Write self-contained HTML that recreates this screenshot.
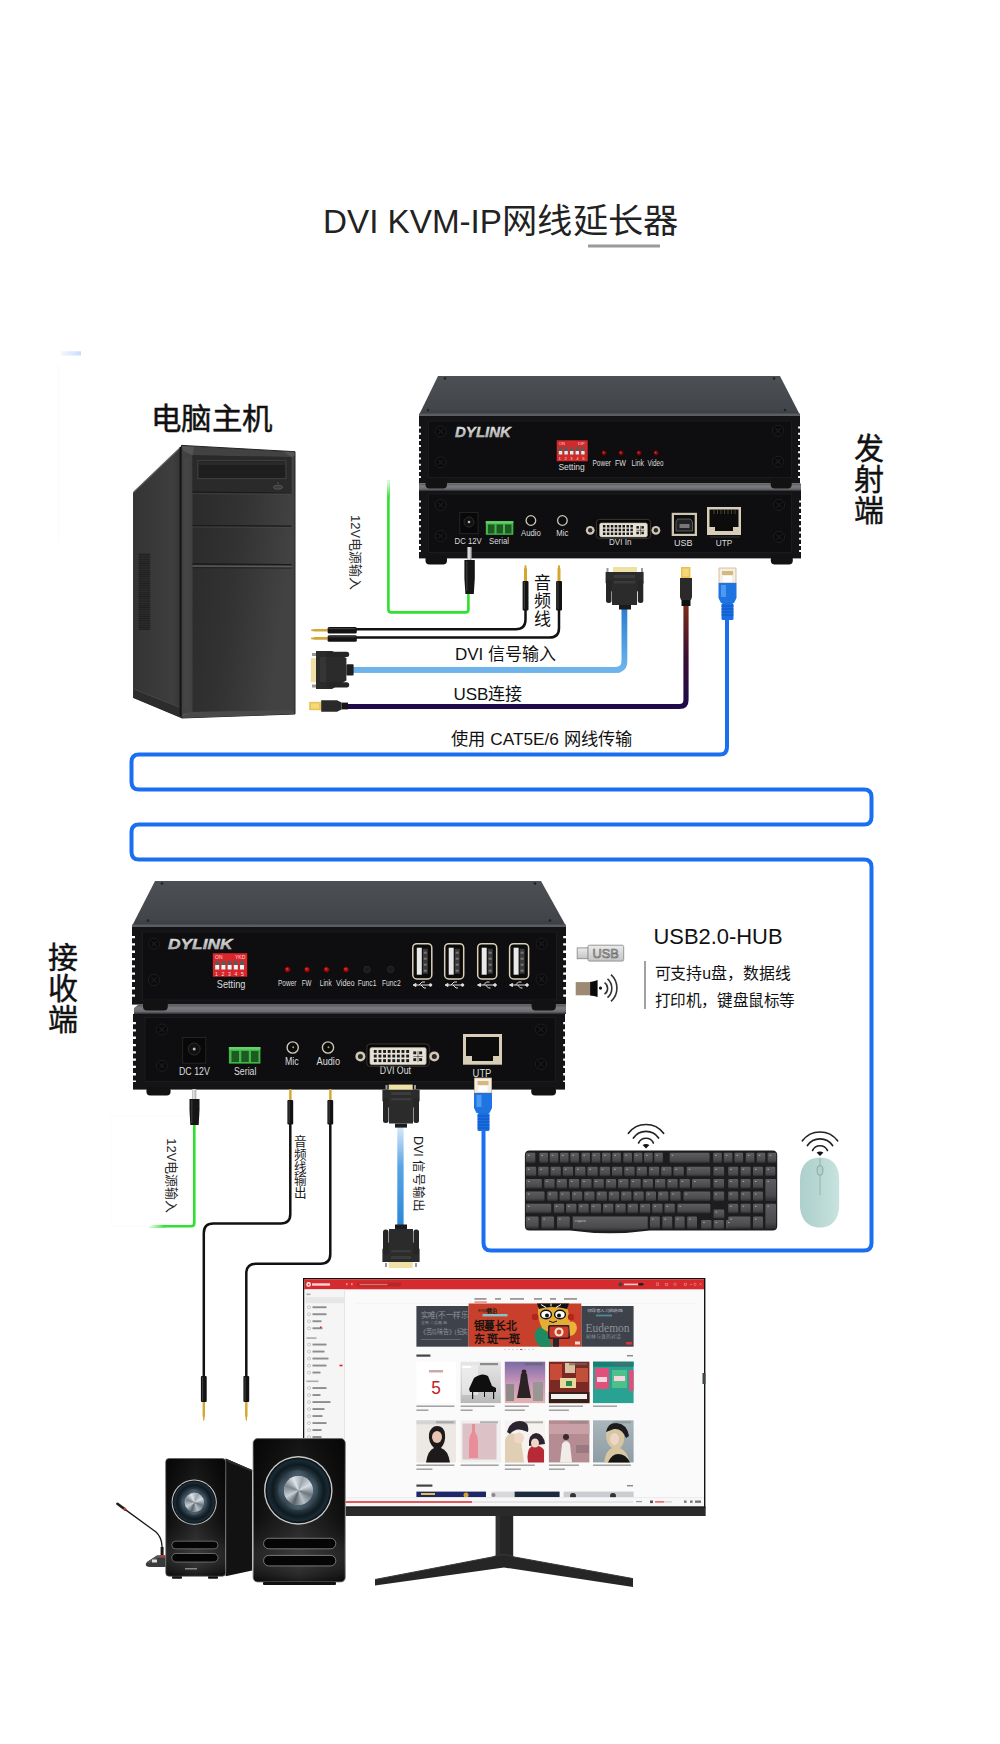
<!DOCTYPE html>
<html lang="zh-CN"><head><meta charset="utf-8">
<style>
html,body{margin:0;padding:0;background:#fff;}
body{width:1000px;height:1744px;overflow:hidden;position:relative;font-family:"Liberation Sans",sans-serif;}
svg{display:block;}
.dome{position:absolute;border-radius:50%;background:conic-gradient(from 20deg,#9aa4ac,#d6dde2 12%,#6c767e 25%,#b8c0c6 38%,#58626a 50%,#c8d0d6 62%,#7a848c 75%,#dfe5e9 88%,#9aa4ac);}
.cone{position:absolute;border-radius:50%;background:conic-gradient(from 0deg,rgba(120,150,170,.25),rgba(0,0,0,0) 10%,rgba(120,150,170,.18) 22%,rgba(0,0,0,0) 35%,rgba(140,170,190,.22) 50%,rgba(0,0,0,0) 62%,rgba(120,150,170,.2) 75%,rgba(0,0,0,0) 88%,rgba(120,150,170,.25));}

text{font-family:"Liberation Sans",sans-serif;}
</style></head>
<body>
<svg width="1000" height="1744" viewBox="0 0 1000 1744">
<defs>
<linearGradient id="topS" x1="0" y1="0" x2="0" y2="1"><stop offset="0" stop-color="#4c4f54"/><stop offset="0.85" stop-color="#42454a"/><stop offset="1" stop-color="#3a3d42"/></linearGradient>
<linearGradient id="strip" x1="0" y1="0" x2="0" y2="1"><stop offset="0" stop-color="#55575c"/><stop offset="0.35" stop-color="#7b7c80"/><stop offset="0.75" stop-color="#6a6b70"/><stop offset="1" stop-color="#2a2b2e"/></linearGradient>
<linearGradient id="towerSide" x1="0" y1="0" x2="1" y2="0"><stop offset="0" stop-color="#2a2a2a"/><stop offset="1" stop-color="#3a3a3a"/></linearGradient>
<linearGradient id="towerFront" x1="0" y1="0" x2="1" y2="1"><stop offset="0" stop-color="#262626"/><stop offset="0.6" stop-color="#2f2f2f"/><stop offset="1" stop-color="#3d3d3d"/></linearGradient>
<linearGradient id="dviCab" x1="0" y1="0" x2="0" y2="1"><stop offset="0" stop-color="#2a7ed0"/><stop offset="1" stop-color="#6cb6ee"/></linearGradient>
<linearGradient id="usbCab" x1="0" y1="0" x2="0" y2="1"><stop offset="0" stop-color="#7a2a1a"/><stop offset="0.5" stop-color="#3a1030"/><stop offset="1" stop-color="#1d0b4a"/></linearGradient>
<linearGradient id="dviOut" x1="0" y1="0" x2="0" y2="1"><stop offset="0" stop-color="#d6e9fa"/><stop offset="0.4" stop-color="#5aa4e6"/><stop offset="1" stop-color="#2a88d8"/></linearGradient>
<linearGradient id="silver" x1="0" y1="0" x2="0" y2="1"><stop offset="0" stop-color="#f2f2f2"/><stop offset="0.5" stop-color="#c9c9c9"/><stop offset="1" stop-color="#8d8d8d"/></linearGradient>
<g id="screw"><circle r="5.5" fill="#0a0a0b" stroke="#1f1f22" stroke-width="1"/><path d="M-2.6,-2.6 L2.6,2.6 M2.6,-2.6 L-2.6,2.6" stroke="#1c1c1e" stroke-width="1.3"/></g>
<g id="dviport"><circle cx="4" cy="8.5" r="4" fill="#d8d2c4"/><circle cx="4" cy="8.5" r="1.6" fill="#111"/><circle cx="72" cy="8.5" r="4" fill="#d8d2c4"/><circle cx="72" cy="8.5" r="1.6" fill="#111"/>
<path d="M10,0 H66 V11 L61,17 H15 L10,11 Z" fill="#e2ddd2" stroke="#9b9480" stroke-width="0.8"/>
<g fill="#222"><rect x="14" y="3" width="2" height="2"/><rect x="18" y="3" width="2" height="2"/><rect x="22" y="3" width="2" height="2"/><rect x="26" y="3" width="2" height="2"/><rect x="30" y="3" width="2" height="2"/><rect x="34" y="3" width="2" height="2"/><rect x="38" y="3" width="2" height="2"/><rect x="42" y="3" width="2" height="2"/>
<rect x="14" y="7" width="2" height="2"/><rect x="18" y="7" width="2" height="2"/><rect x="22" y="7" width="2" height="2"/><rect x="26" y="7" width="2" height="2"/><rect x="30" y="7" width="2" height="2"/><rect x="34" y="7" width="2" height="2"/><rect x="38" y="7" width="2" height="2"/><rect x="42" y="7" width="2" height="2"/>
<rect x="16" y="11" width="2" height="2"/><rect x="20" y="11" width="2" height="2"/><rect x="24" y="11" width="2" height="2"/><rect x="28" y="11" width="2" height="2"/><rect x="32" y="11" width="2" height="2"/><rect x="36" y="11" width="2" height="2"/><rect x="40" y="11" width="2" height="2"/><rect x="44" y="11" width="2" height="2"/>
<rect x="51" y="4" width="7" height="1.4"/><rect x="54" y="1.5" width="1.4" height="8"/><rect x="50" y="8" width="2" height="2"/><rect x="57" y="8" width="2" height="2"/></g></g>
<g id="usbA"><rect width="19" height="35.3" rx="4" fill="#0a0a0a" stroke="#d9d0b6" stroke-width="1.5"/><rect x="4" y="4" width="5" height="27" fill="#e9e9e9"/><rect x="10" y="5" width="5" height="25" fill="#3a3a3a"/><g fill="#777"><rect x="11" y="8" width="3" height="2"/><rect x="11" y="14" width="3" height="2"/><rect x="11" y="20" width="3" height="2"/><rect x="11" y="26" width="3" height="2"/></g></g>
<g id="usbSym" fill="none" stroke="#ddd" stroke-width="1"><line x1="-8" y1="0" x2="8" y2="0"/><path d="M-3,0 L0,-3 H3 M-1,0 L2,3 H4"/><circle cx="8.5" cy="0" r="1.3" fill="#ddd"/><polygon points="-9,0 -6,-1.5 -6,1.5" fill="#ddd"/></g>
<linearGradient id="keyG" x1="0" y1="0" x2="0" y2="1"><stop offset="0" stop-color="#5e5e60"/><stop offset="0.75" stop-color="#4a4a4c"/><stop offset="1" stop-color="#2e2e30"/></linearGradient>
</defs>
<rect width="1000" height="1744" fill="#fff"/>

<!-- Title -->
<text x="323" y="232.8" font-size="34" fill="#222" textLength="179" lengthAdjust="spacingAndGlyphs">DVI KVM-IP</text><text x="502" y="233" font-size="34" fill="#222" textLength="176.5" lengthAdjust="spacingAndGlyphs">网线延长器</text>
<rect x="588" y="244.5" width="72" height="3" fill="#9a9a9a"/>

<defs><linearGradient id="fb" x1="0" y1="0" x2="1" y2="0"><stop offset="0" stop-color="#f4f8fe"/><stop offset="1" stop-color="#c6dcf8"/></linearGradient></defs><rect x="61" y="351.3" width="20" height="4.2" fill="url(#fb)"/><rect x="57" y="364" width="3" height="178" fill="#fcfdff"/>

<!-- 电脑主机 -->
<text x="150.5" y="429" font-size="30" fill="#111" stroke="#111" stroke-width="0.45" textLength="122" lengthAdjust="spacingAndGlyphs">电脑主机</text>

<!-- PC tower -->
<g id="tower">
<defs>
<linearGradient id="tSide" x1="0" y1="0" x2="1" y2="0"><stop offset="0" stop-color="#343434"/><stop offset="0.8" stop-color="#3e3e3e"/><stop offset="1" stop-color="#333"/></linearGradient>
<linearGradient id="tFront" x1="0" y1="0" x2="1" y2="0.3"><stop offset="0" stop-color="#2a2a2a"/><stop offset="0.5" stop-color="#323232"/><stop offset="1" stop-color="#424242"/></linearGradient>
<pattern id="vent" width="2" height="2.2" patternUnits="userSpaceOnUse"><rect width="2" height="2.2" fill="#2c2c2c"/><rect width="2" height="0.9" fill="#1e1e1e"/></pattern>
</defs>
<polygon points="133.6,492.2 182.6,445.4 182,718 133.6,698" fill="url(#tSide)"/>
<path d="M133.6,492.2 L182.6,445.4" stroke="#5c5c5c" stroke-width="1.2"/>
<path d="M133.6,492.5 V698" stroke="#2a2a2a" stroke-width="1"/>
<polygon points="133.6,689 181,708 181,718 133.6,698" fill="#2c2c2c"/>
<path d="M133.6,689 L181,708" stroke="#4a4a4a" stroke-width="0.8"/>
<rect x="138.5" y="553.4" width="11.7" height="76.5" fill="url(#vent)"/>
<path d="M180.3,447 V716" stroke="#161616" stroke-width="1.6"/>
<polygon points="181.5,445.4 295,451.7 295,714 181.5,718" fill="#424242"/>
<polygon points="181.5,445.4 295,451.7 295,714 181.5,718" fill="none" stroke="#222" stroke-width="1"/>
<rect x="184" y="458" width="5" height="250" fill="#454545"/>
<polygon points="192.5,455.3 291.5,457 291.5,710 192.5,712" fill="url(#tFront)"/>
<polygon points="182,446 194,447 192.5,455.3 183.5,451" fill="#555"/>
<polygon points="294.5,451.7 284,452 291.5,457 294.5,456" fill="#555"/>
<polygon points="182,717 194,711.5 192.5,712 183.5,714" fill="#555"/>
<polygon points="182,718 192.5,712 291.5,710 295,714" fill="#4a4a4a"/>
<polygon points="192.5,455.3 291.5,457 291.5,492 192.5,491.5" fill="#2a2a2a"/>
<rect x="197.9" y="460.7" width="88" height="18" fill="#1e1e1e" stroke="#4a4a4a" stroke-width="0.8"/>
<rect x="199" y="462" width="86" height="3" fill="#2a2a2a"/>
<ellipse cx="278" cy="487.2" rx="4.6" ry="2" fill="#3c3c3c" stroke="#6a6a6a" stroke-width="0.6"/>
<circle cx="278" cy="483" r="0.6" fill="#888"/>
<path d="M192.5,492.2 L291.5,493" stroke="#1a1a1a" stroke-width="1.2"/>
<path d="M192.5,493.6 L291.5,494.4" stroke="#4a4a4a" stroke-width="0.6"/>
<path d="M192.5,525.5 L291.5,526.2" stroke="#1a1a1a" stroke-width="1.2"/>
<path d="M192.5,527 L291.5,527.6" stroke="#4a4a4a" stroke-width="0.6"/>
<path d="M192.5,564 L291.5,564.6" stroke="#1a1a1a" stroke-width="1.4"/>
<path d="M192.5,566 L291.5,566.6" stroke="#5a5a5a" stroke-width="1.4"/>
<path d="M192.5,567.6 L291.5,568.2" stroke="#1e1e1e" stroke-width="0.8"/>
</g>

<!-- Transmitter -->
<g id="tx">
<polygon points="438,376 780,376 800,415 419,415" fill="url(#topS)"/>
<polygon points="419,413.5 800,413.5 800,416.5 419,416.5" fill="#5b5d62"/>
<circle cx="445" cy="378.5" r="1.3" fill="#222"/><circle cx="774" cy="378.5" r="1.3" fill="#222"/>
<circle cx="428" cy="410" r="1.3" fill="#222"/><circle cx="785" cy="410" r="1.3" fill="#222"/>
<rect x="419" y="416" width="381" height="67.5" fill="#141416"/>
<rect x="428.5" y="421" width="363" height="56.5" fill="#0e0e10" stroke="#1f1f22" stroke-width="0.8"/>
<line x1="419.4" y1="426.5" x2="419.4" y2="481" stroke="#fff" stroke-width="3" stroke-dasharray="2 4.2"/>
<line x1="799.6" y1="426.5" x2="799.6" y2="481" stroke="#fff" stroke-width="3" stroke-dasharray="2 4.2"/>
<use href="#screw" x="440.7" y="431.5"/><use href="#screw" x="440.7" y="462.3"/>
<use href="#screw" x="778" y="430.8"/><use href="#screw" x="778" y="461.6"/>
<text x="455" y="437" font-size="14" font-weight="bold" font-style="italic" fill="url(#silver)" stroke="#d0d0d0" stroke-width="0.35" textLength="56" lengthAdjust="spacingAndGlyphs">DYLINK</text>
<rect x="556.7" y="440.3" width="31" height="21" fill="#d02a2a"/>
<text x="559" y="445" font-size="4" fill="#fcc">ON</text><text x="578" y="445" font-size="4" fill="#fcc">DIP</text>
<g fill="#5a5a5a"><rect x="558.8" y="447" width="3.4" height="7.5"/><rect x="564.4" y="447" width="3.4" height="7.5"/><rect x="570" y="447" width="3.4" height="7.5"/><rect x="575.6" y="447" width="3.4" height="7.5"/><rect x="581.2" y="447" width="3.4" height="7.5"/></g>
<g fill="#e8e8e8"><rect x="558.8" y="451" width="3.4" height="3.5"/><rect x="564.4" y="451" width="3.4" height="3.5"/><rect x="570" y="451" width="3.4" height="3.5"/><rect x="575.6" y="451" width="3.4" height="3.5"/><rect x="581.2" y="451" width="3.4" height="3.5"/></g>
<text x="558.5" y="460" font-size="4.2" fill="#fdd" textLength="26">1 2 3 4 5</text>
<text x="558.4" y="470" font-size="9.5" fill="#ddd" textLength="26.4" lengthAdjust="spacingAndGlyphs">Setting</text>
<g fill="#8a0c0c" stroke="#3a0505" stroke-width="0.9"><circle cx="604" cy="453" r="2.4"/><circle cx="621" cy="453" r="2.4"/><circle cx="639" cy="453" r="2.4"/><circle cx="656" cy="453" r="2.4"/></g>
<g fill="#d33" ><circle cx="603.5" cy="452.4" r="0.9"/><circle cx="620.5" cy="452.4" r="0.9"/><circle cx="638.5" cy="452.4" r="0.9"/><circle cx="655.5" cy="452.4" r="0.9"/></g>
<g font-size="8.2" fill="#ddd">
<text x="592.5" y="466" textLength="18.5" lengthAdjust="spacingAndGlyphs">Power</text>
<text x="615" y="466" textLength="11" lengthAdjust="spacingAndGlyphs">FW</text>
<text x="631.5" y="466" textLength="12.5" lengthAdjust="spacingAndGlyphs">Link</text>
<text x="647.5" y="466" textLength="16" lengthAdjust="spacingAndGlyphs">Video</text>
</g>
<rect x="419" y="483.5" width="382" height="7.5" fill="url(#strip)"/>
<rect x="425.5" y="478" width="21.5" height="10.5" rx="4" fill="#121212"/>
<rect x="770.7" y="478" width="21" height="10.5" rx="4" fill="#121212"/>
<rect x="419" y="491" width="382" height="67.4" fill="#141416"/>
<rect x="428.5" y="494" width="363" height="58.5" fill="#0e0e10" stroke="#1f1f22" stroke-width="0.8"/>
<line x1="419.4" y1="500.5" x2="419.4" y2="556" stroke="#fff" stroke-width="3" stroke-dasharray="2 4.2"/>
<line x1="800.6" y1="500.5" x2="800.6" y2="556" stroke="#fff" stroke-width="3" stroke-dasharray="2 4.2"/>
<use href="#screw" x="440.7" y="505"/><use href="#screw" x="440.7" y="536"/>
<use href="#screw" x="779" y="505"/><use href="#screw" x="779" y="537"/>
<rect x="459.8" y="512.4" width="18.2" height="21.3" fill="#080808" stroke="#2a2a2a" stroke-width="0.8"/>
<circle cx="469" cy="522" r="5" fill="#111" stroke="#333" stroke-width="0.8"/><circle cx="469" cy="522" r="1.3" fill="#bbb"/>
<rect x="485.8" y="521.2" width="27.5" height="13.6" fill="#43b649"/>
<g fill="#1d5a22"><rect x="488" y="524.5" width="6.5" height="9"/><rect x="496.5" y="524.5" width="6.5" height="9"/><rect x="505" y="524.5" width="6.5" height="9"/></g>
<rect x="485.8" y="521.2" width="27.5" height="2.2" fill="#66d26b"/>
<circle cx="530.9" cy="520.5" r="4.8" fill="#0a0a0a" stroke="#cfc8b8" stroke-width="1.3"/>
<circle cx="562.4" cy="520.5" r="4.8" fill="#0a0a0a" stroke="#cfc8b8" stroke-width="1.3"/>
<g font-size="8.5" fill="#ddd">
<text x="454.6" y="544.3" textLength="27.2" lengthAdjust="spacingAndGlyphs">DC 12V</text>
<text x="489" y="544.3" textLength="20" lengthAdjust="spacingAndGlyphs">Serial</text>
<text x="521" y="536" textLength="19.8" lengthAdjust="spacingAndGlyphs">Audio</text>
<text x="556.2" y="536" textLength="12.1" lengthAdjust="spacingAndGlyphs">Mic</text>
<text x="609" y="545" textLength="22.5" lengthAdjust="spacingAndGlyphs">DVI In</text>
<text x="674" y="546.2" font-size="9.5" textLength="18.6" lengthAdjust="spacingAndGlyphs">USB</text>
<text x="715.7" y="546.2" font-size="9.5" textLength="16.5" lengthAdjust="spacingAndGlyphs">UTP</text>
</g>
<g><rect x="596.6" y="519.4" width="53.8" height="19.2" rx="3" fill="#060606" stroke="#5a5448" stroke-width="0.6"/><circle cx="590.2" cy="530.3" r="4.4" fill="#cfc8b6"/><circle cx="590.2" cy="530.3" r="2.2" fill="#2a2622"/><circle cx="655.9" cy="530.3" r="4.4" fill="#cfc8b6"/><circle cx="655.9" cy="530.3" r="2.2" fill="#2a2622"/><rect x="599.6" y="523.0" width="47.8" height="14.0" rx="1.8" fill="#e6e2d8" stroke="#b0a890" stroke-width="0.6"/><rect x="602.9" y="525.0" width="2.5" height="2.5" fill="#1a1a1a"/><rect x="606.9" y="525.0" width="2.5" height="2.5" fill="#1a1a1a"/><rect x="610.8" y="525.0" width="2.5" height="2.5" fill="#1a1a1a"/><rect x="614.7" y="525.0" width="2.5" height="2.5" fill="#1a1a1a"/><rect x="618.6" y="525.0" width="2.5" height="2.5" fill="#1a1a1a"/><rect x="622.5" y="525.0" width="2.5" height="2.5" fill="#1a1a1a"/><rect x="626.5" y="525.0" width="2.5" height="2.5" fill="#1a1a1a"/><rect x="630.4" y="525.0" width="2.5" height="2.5" fill="#1a1a1a"/><rect x="602.9" y="528.7" width="2.5" height="2.5" fill="#1a1a1a"/><rect x="606.9" y="528.7" width="2.5" height="2.5" fill="#1a1a1a"/><rect x="610.8" y="528.7" width="2.5" height="2.5" fill="#1a1a1a"/><rect x="614.7" y="528.7" width="2.5" height="2.5" fill="#1a1a1a"/><rect x="618.6" y="528.7" width="2.5" height="2.5" fill="#1a1a1a"/><rect x="622.5" y="528.7" width="2.5" height="2.5" fill="#1a1a1a"/><rect x="626.5" y="528.7" width="2.5" height="2.5" fill="#1a1a1a"/><rect x="630.4" y="528.7" width="2.5" height="2.5" fill="#1a1a1a"/><rect x="602.9" y="532.5" width="2.5" height="2.5" fill="#1a1a1a"/><rect x="606.9" y="532.5" width="2.5" height="2.5" fill="#1a1a1a"/><rect x="610.8" y="532.5" width="2.5" height="2.5" fill="#1a1a1a"/><rect x="614.7" y="532.5" width="2.5" height="2.5" fill="#1a1a1a"/><rect x="618.6" y="532.5" width="2.5" height="2.5" fill="#1a1a1a"/><rect x="622.5" y="532.5" width="2.5" height="2.5" fill="#1a1a1a"/><rect x="626.5" y="532.5" width="2.5" height="2.5" fill="#1a1a1a"/><rect x="630.4" y="532.5" width="2.5" height="2.5" fill="#1a1a1a"/><rect x="636.4" y="526.1" width="2.5" height="2.5" fill="#1a1a1a"/><rect x="641.4" y="526.1" width="2.5" height="2.5" fill="#1a1a1a"/><rect x="636.4" y="531.7" width="2.5" height="2.5" fill="#1a1a1a"/><rect x="641.4" y="531.7" width="2.5" height="2.5" fill="#1a1a1a"/><path d="M636.4,530.3 H644.5 M640.5,525.8 V534.9" stroke="#333" stroke-width="0.6"/></g>
<rect x="671.7" y="512.8" width="25.3" height="23.2" fill="#cfc6b2"/>
<rect x="674" y="515" width="20.7" height="18.8" fill="#0c0c0c"/>
<polygon points="677.5,519 690.5,519 692.5,522 692.5,531 676,531 676,522" fill="#222" stroke="#888" stroke-width="0.6"/>
<rect x="679.5" y="524" width="10" height="4" fill="#777"/>
<rect x="707" y="507" width="34" height="28" fill="#d8ceb8"/>
<polygon points="709.5,509.5 738.5,509.5 738.5,527 733,527 733,531 715,531 715,527 709.5,527" fill="#0c0c0c"/>
<line x1="710" y1="537" x2="740" y2="537" stroke="#555" stroke-width="0.6"/><g stroke="#8a7a5a" stroke-width="0.5"><line x1="714" y1="510" x2="714" y2="514"/><line x1="717.5" y1="510" x2="717.5" y2="514"/><line x1="721" y1="510" x2="721" y2="514"/><line x1="724.5" y1="510" x2="724.5" y2="514"/><line x1="728" y1="510" x2="728" y2="514"/><line x1="731.5" y1="510" x2="731.5" y2="514"/><line x1="735" y1="510" x2="735" y2="514"/></g>
<rect x="425.5" y="555" width="21.5" height="9.4" rx="4" fill="#121212"/>
<rect x="770.8" y="555" width="22" height="9.4" rx="4" fill="#121212"/>
</g>

<!-- TX cables -->
<g id="txcables">
<defs>
<linearGradient id="greenFade" x1="0" y1="480" x2="0" y2="498" gradientUnits="userSpaceOnUse"><stop offset="0" stop-color="#fff"/><stop offset="1" stop-color="#2fe02f"/></linearGradient>
</defs>
<path d="M388.4,480.5 V609.4 Q388.4,612.4 391.4,612.4 H465.4 Q468.4,612.4 468.4,609.4 V594" fill="none" stroke="#2fe02f" stroke-width="2.6"/>
<path d="M388.4,480.5 V498" fill="none" stroke="url(#greenFade)" stroke-width="2.6"/>
<!-- DC plug -->
<rect x="467.3" y="547" width="4.3" height="13" fill="#b9b9b9"/>
<rect x="468.4" y="547" width="1.2" height="13" fill="#eee"/>
<path d="M464.4,560 H474.8 V578 L473.8,594 H465.4 L464.4,578 Z" fill="#151515"/>
<rect x="466" y="561" width="1.5" height="30" fill="#333"/>
<text transform="translate(350.6,515) rotate(90)" font-size="13" fill="#2a2a2a">12V电源输入</text>
<!-- audio cables -->
<path d="M525.5,610 V619.5 Q525.5,629.3 515.7,629.3 H356" fill="none" stroke="#111" stroke-width="2.5"/>
<path d="M559,610 V628 Q559,637.6 549.4,637.6 H356" fill="none" stroke="#111" stroke-width="2.5"/>
<g>
<path d="M524.7,565.2 L526.3,565.2 L526.6,568 L527,569 L527,581 L524,581 L524,569 L524.4,568 Z" fill="#d4a530"/>
<rect x="522.6" y="581" width="5.9" height="29.5" rx="1" fill="#121212"/>
<rect x="523.8" y="582" width="1.2" height="27" fill="#3a3a3a"/>
<path d="M558.2,565.2 L559.8,565.2 L560.1,568 L560.5,569 L560.5,581 L557.5,581 L557.5,569 L557.9,568 Z" fill="#d4a530"/>
<rect x="556.1" y="581" width="5.9" height="29.5" rx="1" fill="#121212"/>
<rect x="557.3" y="582" width="1.2" height="27" fill="#3a3a3a"/>
</g>
<text x="533.5" y="589" font-size="17" fill="#111">音</text>
<text x="533.5" y="607" font-size="17" fill="#111">频</text>
<text x="533.5" y="624.5" font-size="17" fill="#111">线</text>
<!-- left horizontal jacks -->
<g>
<path d="M311.2,629.4 L313.5,629.2 L314.5,628.9 L327.6,628.9 L327.6,631.5 L314.5,631.5 L313.5,631.2 L311.2,631 Z" fill="#d4a530"/>
<rect x="327.6" y="627" width="29.2" height="6.6" rx="1.5" fill="#121212"/>
<rect x="328.5" y="628" width="27" height="1.2" fill="#3a3a3a"/>
<path d="M311.2,637.6 L313.5,637.4 L314.5,637.1 L327.6,637.1 L327.6,639.7 L314.5,639.7 L313.5,639.4 L311.2,639.2 Z" fill="#d4a530"/>
<rect x="327.6" y="635.2" width="29.2" height="6.6" rx="1.5" fill="#121212"/>
<rect x="328.5" y="636.2" width="27" height="1.2" fill="#3a3a3a"/>
</g>
<!-- DVI cable -->
<path d="M624.4,609 V661 Q624.4,669.8 615.6,669.8 H353" fill="none" stroke="url(#dviCab)" stroke-width="5.8"/>
<path d="M353,669.8 H620" fill="none" stroke="#6bb3ea" stroke-width="5.8"/>
<!-- DVI connector left -->
<g>
<rect x="310.8" y="658.2" width="5.4" height="24" fill="#efe0a6"/>
<rect x="312" y="653" width="4" height="3" fill="#999"/><rect x="312" y="684.5" width="4" height="3" fill="#999"/>
<path d="M316,651 H332 L346.4,658 V680.6 L332,689 H316 Z" fill="#2b2b2b"/>
<rect x="326.4" y="651.8" width="22.8" height="5.2" rx="2.5" fill="#262626"/>
<rect x="326.4" y="682.2" width="22.8" height="5.2" rx="2.5" fill="#262626"/>
<rect x="346.4" y="664.2" width="7.2" height="11.2" rx="1" fill="#1e1e1e"/>
<rect x="320" y="657" width="6" height="25" fill="#353535"/>
</g>
<!-- USB cable -->
<path d="M686,606 V700 Q686,706.5 679.5,706.5 H348" fill="none" stroke="url(#usbCab)" stroke-width="5.2"/>
<path d="M348,706.5 H670" fill="none" stroke="#1e0a4a" stroke-width="5.2"/>
<g>
<rect x="309.2" y="701.8" width="12" height="8.4" fill="#e8c45a"/>
<rect x="311" y="703.5" width="8" height="5" fill="#f3d97a"/>
<path d="M321.2,700.2 H337 L341.6,702.6 V709.4 L337,711.8 H321.2 Z" fill="#2a2a2a"/>
<rect x="341.6" y="702.6" width="6.4" height="6.8" fill="#161616"/>
</g>
<!-- DVI connector top (tx) -->
<g>
<rect x="613" y="567" width="24" height="5.5" fill="#efe0a6"/>
<rect x="606.5" y="568" width="2" height="4" fill="#999"/><rect x="641" y="568" width="2" height="4" fill="#999"/>
<path d="M605.6,572 H643.6 V583 L637,592 V605 H612 V592 L605.6,583 Z" fill="#2b2b2b"/>
<rect x="606" y="580" width="5.5" height="23" rx="2.5" fill="#262626"/><rect x="637.8" y="580" width="5.5" height="23" rx="2.5" fill="#262626"/>
<rect x="614" y="575" width="21" height="3" fill="#3b3b3b"/>
<rect x="614" y="581" width="21" height="2.5" fill="#3b3b3b"/>
<rect x="619" y="605" width="12" height="4.5" fill="#1b1b1b"/>
</g>
<!-- USB B plug top -->
<g>
<rect x="681" y="567" width="9.4" height="11" fill="#e6c050"/>
<rect x="682.5" y="568.5" width="6.4" height="8" fill="#f4d777"/>
<path d="M680,578 H692 V597 L691,600 H681 L680,597 Z" fill="#2a2a2a"/>
<rect x="681.5" y="600" width="9" height="6" fill="#111"/>
</g>
<!-- RJ45 top -->
<g>
<path d="M719,568 H736 V583 H719 Z" fill="#f3efe6" stroke="#c9b48a" stroke-width="0.8"/>
<rect x="722" y="571" width="11" height="4" fill="#d6b87a"/>
<rect x="723" y="576" width="9" height="6" fill="#fff"/>
<path d="M718.5,583 H736.5 V598 L734,603 H721 L718.5,598 Z" fill="#1e74e0"/>
<rect x="721" y="585" width="5" height="12" fill="#4b9af0"/>
<rect x="721.5" y="603" width="12" height="17" rx="1.5" fill="#1a6ee6"/>
<g stroke="#0d4fb0" stroke-width="0.8"><line x1="721.5" y1="606" x2="733.5" y2="606"/><line x1="721.5" y1="609" x2="733.5" y2="609"/><line x1="721.5" y1="612" x2="733.5" y2="612"/><line x1="721.5" y1="615" x2="733.5" y2="615"/></g>
</g>
</g>
<text x="455" y="659.7" font-size="17" fill="#111">DVI 信号输入</text>
<text x="453.5" y="700" font-size="17" fill="#111">USB连接</text>
<text x="451" y="744.5" font-size="17" fill="#111" textLength="181.5" lengthAdjust="spacingAndGlyphs">使用 CAT5E/6 网线传输</text>

<text x="854" y="459" font-size="30" fill="#111" stroke="#111" stroke-width="0.45">发</text>
<text x="854" y="490" font-size="30" fill="#111" stroke="#111" stroke-width="0.45">射</text>
<text x="854" y="521" font-size="30" fill="#111" stroke="#111" stroke-width="0.45">端</text>

<!-- Receiver -->
<g id="rx">
<polygon points="155,881 541,881 566,926 132,926" fill="url(#topS)"/>
<polygon points="132,924.5 566,924.5 566,927.5 132,927.5" fill="#5b5d62"/>
<circle cx="162" cy="883.5" r="1.3" fill="#222"/><circle cx="535" cy="883.5" r="1.3" fill="#222"/>
<circle cx="148" cy="920.5" r="1.3" fill="#222"/><circle cx="550" cy="920.5" r="1.3" fill="#222"/>
<rect x="132" y="927" width="434" height="77.6" fill="#141416"/>
<rect x="142.5" y="932" width="414" height="68" fill="#0e0e10" stroke="#1f1f22" stroke-width="0.8"/>
<line x1="133.3" y1="936" x2="133.3" y2="1000" stroke="#fff" stroke-width="3.4" stroke-dasharray="2.3 5"/>
<line x1="564.9" y1="936" x2="564.9" y2="1000" stroke="#fff" stroke-width="3.4" stroke-dasharray="2.3 5"/>
<use href="#screw" x="154" y="943.7"/><use href="#screw" x="154" y="980"/>
<use href="#screw" x="541.5" y="943.7"/><use href="#screw" x="541.5" y="979.4"/>
<text x="168" y="948.8" font-size="15.5" font-weight="bold" font-style="italic" fill="url(#silver)" stroke="#d0d0d0" stroke-width="0.4" textLength="64.6" lengthAdjust="spacingAndGlyphs">DYLINK</text>
<rect x="212.8" y="953.2" width="34.4" height="23.5" fill="#d8262b"/>
<text x="215" y="959" font-size="5" fill="#fdd">ON</text><text x="235" y="959" font-size="5" fill="#fdd">YKD</text>
<g fill="#5a5a5a"><rect x="215.2" y="961" width="4" height="8.5"/><rect x="221.4" y="961" width="4" height="8.5"/><rect x="227.6" y="961" width="4" height="8.5"/><rect x="233.8" y="961" width="4" height="8.5"/><rect x="240" y="961" width="4" height="8.5"/></g>
<g fill="#f2f2f2"><rect x="215.2" y="965" width="4" height="4.5"/><rect x="221.4" y="965" width="4" height="4.5"/><rect x="227.6" y="965" width="4" height="4.5"/><rect x="233.8" y="965" width="4" height="4.5"/><rect x="240" y="965" width="4" height="4.5"/></g>
<text x="215" y="975.5" font-size="5.2" fill="#fdd" textLength="29">1 2 3 4 5</text>
<text x="216.8" y="988.4" font-size="10.5" fill="#ddd" textLength="28.6" lengthAdjust="spacingAndGlyphs">Setting</text>
<g fill="#a81010" stroke="#3a0606" stroke-width="0.9"><circle cx="287.5" cy="969.5" r="2.8"/><circle cx="307" cy="969.5" r="2.8"/><circle cx="326.5" cy="969.5" r="2.8"/><circle cx="346" cy="969.5" r="2.8"/></g>
<g fill="#e33"><circle cx="287" cy="968.8" r="1"/><circle cx="306.5" cy="968.8" r="1"/><circle cx="326" cy="968.8" r="1"/><circle cx="345.5" cy="968.8" r="1"/></g>
<g fill="#1a1a1a" stroke="#2c2c2c" stroke-width="0.8"><circle cx="367" cy="969.5" r="3.2"/><circle cx="390.6" cy="969.5" r="3.2"/></g>
<g font-size="8.5" fill="#ddd">
<text x="278" y="986" textLength="18.5" lengthAdjust="spacingAndGlyphs">Power</text>
<text x="301.7" y="986" textLength="9.7" lengthAdjust="spacingAndGlyphs">FW</text>
<text x="319.8" y="986" textLength="11.9" lengthAdjust="spacingAndGlyphs">Link</text>
<text x="336" y="986" textLength="18.6" lengthAdjust="spacingAndGlyphs">Video</text>
<text x="357.7" y="986" textLength="18.8" lengthAdjust="spacingAndGlyphs">Func1</text>
<text x="382" y="986" textLength="18.7" lengthAdjust="spacingAndGlyphs">Func2</text>
</g>
<use href="#usbA" x="412.8" y="943.7"/><use href="#usbA" x="444.7" y="943.7"/><use href="#usbA" x="477.7" y="943.7"/><use href="#usbA" x="509.6" y="943.7"/>
<use href="#usbSym" x="422" y="985"/><use href="#usbSym" x="454" y="985"/><use href="#usbSym" x="486.5" y="985"/><use href="#usbSym" x="518.5" y="985"/>
<polygon points="138.6,1004.6 566,1004.6 566,1014 134,1014 134,1008" fill="url(#strip)"/>
<rect x="143" y="1000" width="24.8" height="10.5" rx="4" fill="#121212"/>
<rect x="531.6" y="1000" width="24.2" height="10.5" rx="4" fill="#121212"/>
<rect x="133" y="1014" width="432" height="75.6" fill="#141416"/>
<rect x="145" y="1017.5" width="410.2" height="64.1" fill="#0e0e10" stroke="#1f1f22" stroke-width="0.8"/>
<line x1="134.2" y1="1022" x2="134.2" y2="1082" stroke="#fff" stroke-width="3.4" stroke-dasharray="2.3 5"/>
<line x1="564.9" y1="1022" x2="564.9" y2="1082" stroke="#fff" stroke-width="3.4" stroke-dasharray="2.3 5"/>
<use href="#screw" x="161.8" y="1029.5"/><use href="#screw" x="161.8" y="1065.8"/>
<use href="#screw" x="540.9" y="1029.5"/><use href="#screw" x="540.9" y="1064"/>
<rect x="182.7" y="1037.6" width="23.1" height="25.6" fill="#080808" stroke="#2a2a2a" stroke-width="0.8"/>
<circle cx="194.2" cy="1049" r="6" fill="#111" stroke="#333" stroke-width="0.8"/><circle cx="194.2" cy="1049" r="1.5" fill="#bbb"/>
<rect x="228.9" y="1047" width="31.5" height="16.6" fill="#43b649"/>
<g fill="#1d5a22"><rect x="231.5" y="1051" width="7.5" height="11"/><rect x="241.3" y="1051" width="7.5" height="11"/><rect x="251" y="1051" width="7.5" height="11"/></g>
<rect x="228.9" y="1047" width="31.5" height="2.5" fill="#66d26b"/>
<circle cx="292.7" cy="1047.5" r="5.6" fill="#0a0a0a" stroke="#cfc8b8" stroke-width="1.4"/><circle cx="293.2" cy="1047.2" r="1" fill="#a89a70"/>
<circle cx="328" cy="1047.5" r="5.6" fill="#0a0a0a" stroke="#cfc8b8" stroke-width="1.4"/><circle cx="328.5" cy="1047.2" r="1" fill="#a89a70"/>
<g font-size="10" fill="#ddd">
<text x="179" y="1074.6" textLength="30.8" lengthAdjust="spacingAndGlyphs">DC 12V</text>
<text x="234" y="1074.6" textLength="22.4" lengthAdjust="spacingAndGlyphs">Serial</text>
<text x="285" y="1065.4" textLength="13.7" lengthAdjust="spacingAndGlyphs">Mic</text>
<text x="316.5" y="1065.4" textLength="23.5" lengthAdjust="spacingAndGlyphs">Audio</text>
<text x="379.8" y="1073.5" textLength="31.2" lengthAdjust="spacingAndGlyphs">DVI Out</text>
<text x="472.6" y="1076.8" font-size="11" textLength="18.8" lengthAdjust="spacingAndGlyphs">UTP</text>
</g>
<g><rect x="366.9" y="1044.0" width="62.3" height="22.3" rx="3" fill="#060606" stroke="#5a5448" stroke-width="0.6"/><circle cx="360.4" cy="1056.4" r="5.0" fill="#cfc8b6"/><circle cx="360.4" cy="1056.4" r="2.5" fill="#2a2622"/><circle cx="434.3" cy="1056.4" r="5.0" fill="#cfc8b6"/><circle cx="434.3" cy="1056.4" r="2.5" fill="#2a2622"/><rect x="369.9" y="1047.6" width="56.3" height="17.1" rx="1.8" fill="#e6e2d8" stroke="#b0a890" stroke-width="0.6"/><rect x="373.8" y="1050.0" width="2.9" height="2.9" fill="#1a1a1a"/><rect x="378.5" y="1050.0" width="2.9" height="2.9" fill="#1a1a1a"/><rect x="383.1" y="1050.0" width="2.9" height="2.9" fill="#1a1a1a"/><rect x="387.7" y="1050.0" width="2.9" height="2.9" fill="#1a1a1a"/><rect x="392.3" y="1050.0" width="2.9" height="2.9" fill="#1a1a1a"/><rect x="396.9" y="1050.0" width="2.9" height="2.9" fill="#1a1a1a"/><rect x="401.5" y="1050.0" width="2.9" height="2.9" fill="#1a1a1a"/><rect x="406.2" y="1050.0" width="2.9" height="2.9" fill="#1a1a1a"/><rect x="373.8" y="1054.6" width="2.9" height="2.9" fill="#1a1a1a"/><rect x="378.5" y="1054.6" width="2.9" height="2.9" fill="#1a1a1a"/><rect x="383.1" y="1054.6" width="2.9" height="2.9" fill="#1a1a1a"/><rect x="387.7" y="1054.6" width="2.9" height="2.9" fill="#1a1a1a"/><rect x="392.3" y="1054.6" width="2.9" height="2.9" fill="#1a1a1a"/><rect x="396.9" y="1054.6" width="2.9" height="2.9" fill="#1a1a1a"/><rect x="401.5" y="1054.6" width="2.9" height="2.9" fill="#1a1a1a"/><rect x="406.2" y="1054.6" width="2.9" height="2.9" fill="#1a1a1a"/><rect x="373.8" y="1059.2" width="2.9" height="2.9" fill="#1a1a1a"/><rect x="378.5" y="1059.2" width="2.9" height="2.9" fill="#1a1a1a"/><rect x="383.1" y="1059.2" width="2.9" height="2.9" fill="#1a1a1a"/><rect x="387.7" y="1059.2" width="2.9" height="2.9" fill="#1a1a1a"/><rect x="392.3" y="1059.2" width="2.9" height="2.9" fill="#1a1a1a"/><rect x="396.9" y="1059.2" width="2.9" height="2.9" fill="#1a1a1a"/><rect x="401.5" y="1059.2" width="2.9" height="2.9" fill="#1a1a1a"/><rect x="406.2" y="1059.2" width="2.9" height="2.9" fill="#1a1a1a"/><rect x="413.3" y="1051.4" width="2.9" height="2.9" fill="#1a1a1a"/><rect x="419.2" y="1051.4" width="2.9" height="2.9" fill="#1a1a1a"/><rect x="413.3" y="1058.2" width="2.9" height="2.9" fill="#1a1a1a"/><rect x="419.2" y="1058.2" width="2.9" height="2.9" fill="#1a1a1a"/><path d="M413.3,1056.5 H422.8 M418.0,1051.0 V1062.1" stroke="#333" stroke-width="0.6"/></g>
<rect x="463" y="1034" width="39" height="30.7" fill="#d8ceb8"/>
<polygon points="466,1037 499,1037 499,1056 493,1056 493,1061 472,1061 472,1056 466,1056" fill="#0c0c0c"/>
<rect x="146.4" y="1087" width="24.2" height="8.6" rx="4" fill="#121212"/>
<rect x="531.2" y="1087" width="24.8" height="8.4" rx="4" fill="#121212"/>
</g>

<!-- RX cables -->
<g id="rxcables">
<path d="M194.3,1125 V1223 Q194.3,1226.2 191.1,1226.2 H149" fill="none" stroke="#2fe02f" stroke-width="2.6"/>
<defs><linearGradient id="greenFadeL" x1="149" y1="0" x2="165" y2="0" gradientUnits="userSpaceOnUse"><stop offset="0" stop-color="#fff"/><stop offset="1" stop-color="#2fe02f"/></linearGradient></defs>
<path d="M149,1226.2 H165" stroke="url(#greenFadeL)" stroke-width="2.6"/>
<path d="M149,1226.2 H114 Q111,1226.2 111,1223 V1119 Q111,1116 114,1116 H190" fill="none" stroke="#fafdfa" stroke-width="1.2"/>
<rect x="192.2" y="1089" width="4.2" height="10" fill="#b9b9b9"/>
<rect x="193.3" y="1089" width="1.2" height="10" fill="#eee"/>
<path d="M189.5,1099 H199.5 V1110 L198.7,1125 H190.3 L189.5,1110 Z" fill="#151515"/>
<rect x="191" y="1100" width="1.5" height="23" fill="#333"/>
<text transform="translate(166.6,1138.3) rotate(90)" font-size="13" fill="#2a2a2a">12V电源输入</text>
<!-- audio out cables -->
<path d="M290.3,1124 V1214 Q290.3,1223.5 280.8,1223.5 H213.3 Q203.8,1223.5 203.8,1233 V1378" fill="none" stroke="#111" stroke-width="2.5"/>
<path d="M330.3,1124 V1254 Q330.3,1263.7 320.6,1263.7 H256 Q246.3,1263.7 246.3,1273.4 V1378" fill="none" stroke="#111" stroke-width="2.5"/>
<g>
<rect x="289.2" y="1089" width="2.4" height="11" fill="#d4a530"/>
<rect x="287.4" y="1100" width="5.8" height="24.5" rx="1" fill="#121212"/>
<rect x="288.5" y="1101" width="1.2" height="22" fill="#3a3a3a"/>
<rect x="329.2" y="1089" width="2.4" height="11" fill="#d4a530"/>
<rect x="327.4" y="1100" width="5.8" height="24.5" rx="1" fill="#121212"/>
<rect x="328.5" y="1101" width="1.2" height="22" fill="#3a3a3a"/>
</g>
<g>
<rect x="200.9" y="1376" width="5.8" height="26" rx="1" fill="#121212"/>
<rect x="202" y="1377" width="1.2" height="24" fill="#3a3a3a"/>
<path d="M202.6,1402 H205 V1416 L204.4,1418 L204.6,1419 L203.8,1421.5 L203,1419 L203.2,1418 L202.6,1416 Z" fill="#d4a530"/>
<rect x="243.4" y="1376" width="5.8" height="26" rx="1" fill="#121212"/>
<rect x="244.5" y="1377" width="1.2" height="24" fill="#3a3a3a"/>
<path d="M245.1,1402 H247.5 V1416 L246.9,1418 L247.1,1419 L246.3,1421.5 L245.5,1419 L245.7,1418 L245.1,1416 Z" fill="#d4a530"/>
</g>
<text x="293.5" y="1146" font-size="12.6" fill="#1a1a1a">音</text>
<text x="293.5" y="1158.8" font-size="12.6" fill="#1a1a1a">频</text>
<text x="293.5" y="1171.6" font-size="12.6" fill="#1a1a1a">线</text>
<text x="293.5" y="1184.4" font-size="12.6" fill="#1a1a1a">输</text>
<text x="293.5" y="1197.2" font-size="12.6" fill="#1a1a1a">出</text>
<!-- DVI out cable -->
<rect x="397.3" y="1127" width="6.3" height="98" fill="url(#dviOut)"/>
<g>
<rect x="388.7" y="1084.6" width="24" height="5.5" fill="#efe0a6"/>
<rect x="385.5" y="1085" width="2" height="4" fill="#999"/><rect x="414" y="1085" width="2" height="4" fill="#999"/>
<path d="M382.4,1089.7 H419.6 V1101 L413,1108 V1123.6 H389 V1108 L382.4,1101 Z" fill="#2b2b2b"/>
<rect x="383" y="1098" width="5.5" height="25" rx="2.5" fill="#262626"/><rect x="413.5" y="1098" width="5.5" height="25" rx="2.5" fill="#262626"/>
<rect x="391" y="1092" width="20" height="3" fill="#3b3b3b"/><rect x="391" y="1098" width="20" height="2.5" fill="#3b3b3b"/>
<rect x="395" y="1123.6" width="12" height="4" fill="#1b1b1b"/>
</g>
<g>
<rect x="395" y="1224.5" width="12" height="4.5" fill="#1b1b1b"/>
<path d="M389,1229 H413 V1242 L419.6,1249 V1262 H382.4 V1249 L389,1242 Z" fill="#2b2b2b"/>
<rect x="383" y="1229.5" width="5.5" height="25" rx="2.5" fill="#262626"/><rect x="413.5" y="1229.5" width="5.5" height="25" rx="2.5" fill="#262626"/>
<rect x="391" y="1250" width="20" height="2.5" fill="#3b3b3b"/><rect x="391" y="1256" width="20" height="3" fill="#3b3b3b"/>
<rect x="388.7" y="1262" width="24" height="6" fill="#efe0a6"/>
<rect x="385" y="1263" width="2" height="4" fill="#999"/><rect x="415" y="1263" width="2" height="4" fill="#999"/>
</g>
<text transform="translate(413.6,1136) rotate(90)" font-size="12.5" fill="#1a1a1a">DVI 信号输出</text>
<!-- RJ45 rx -->
<g>
<path d="M474.5,1078 H491.5 V1093 H474.5 Z" fill="#f3efe6" stroke="#c9b48a" stroke-width="0.8"/>
<rect x="477.5" y="1081" width="11" height="4" fill="#d6b87a"/>
<rect x="478.5" y="1086" width="9" height="6" fill="#fff"/>
<path d="M474,1093 H492 V1108 L489.5,1113 H476.5 L474,1108 Z" fill="#1e74e0"/>
<rect x="476.5" y="1095" width="5" height="12" fill="#4b9af0"/>
<rect x="477.5" y="1113" width="12" height="18" rx="1.5" fill="#1a6ee6"/>
<g stroke="#0d4fb0" stroke-width="0.8"><line x1="477.5" y1="1116" x2="489.5" y2="1116"/><line x1="477.5" y1="1119" x2="489.5" y2="1119"/><line x1="477.5" y1="1122" x2="489.5" y2="1122"/><line x1="477.5" y1="1125" x2="489.5" y2="1125"/><line x1="477.5" y1="1128" x2="489.5" y2="1128"/></g>
</g>
</g>

<text x="48" y="968" font-size="30" fill="#111" stroke="#111" stroke-width="0.45">接</text>
<text x="48" y="999" font-size="30" fill="#111" stroke="#111" stroke-width="0.45">收</text>
<text x="48" y="1030" font-size="30" fill="#111" stroke="#111" stroke-width="0.45">端</text>

<!-- network cable -->
<path d="M727,620 V747 Q727,754.5 720,754.5 H139 Q131.5,754.5 131.5,762 V782 Q131.5,789.5 139,789.5 H864 Q871.5,789.5 871.5,797 V817 Q871.5,824.5 864,824.5 H139 Q131.5,824.5 131.5,832 V852 Q131.5,859.5 139,859.5 H864 Q871.5,859.5 871.5,867 V1243 Q871.5,1250.5 864,1250.5 H491 Q483.5,1250.5 483.5,1243 V1131" fill="none" stroke="#1a6ff0" stroke-width="4"/>

<!-- monitor -->
<g id="monitor">
<rect x="303" y="1278" width="402.4" height="238" fill="#121212"/>
<rect x="304.5" y="1279.3" width="399.5" height="227.3" fill="#fafafa"/>
<rect x="304.5" y="1279.3" width="399.5" height="10" fill="#d62b2e"/>
<circle cx="308.6" cy="1284.4" r="2.3" fill="#fff"/><circle cx="308.6" cy="1284.4" r="1" fill="#d13333"/>
<rect x="312" y="1283.3" width="18" height="2.4" fill="#f6d6d6"/>
<rect x="346" y="1283" width="1.6" height="2.2" fill="#e88"/><rect x="351" y="1283" width="1.6" height="2.2" fill="#e88"/>
<rect x="357" y="1282.4" width="44.4" height="4.2" rx="2.1" fill="#b52828"/>
<rect x="359.5" y="1283.8" width="28" height="1.4" fill="#e07070"/>
<circle cx="620.5" cy="1284.4" r="2.1" fill="#444"/><rect x="624" y="1283.6" width="14" height="1.6" fill="#f3caca"/><rect x="638.5" y="1283" width="5" height="2.6" rx="1.3" fill="#222"/>
<g fill="none" stroke="#ea8a8a" stroke-width="0.6"><rect x="656.5" y="1283" width="2.2" height="2.4"/><rect x="665.2" y="1283.3" width="2.6" height="2"/><circle cx="675" cy="1284.3" r="1.2"/><rect x="684.5" y="1283.2" width="2" height="2.2"/><circle cx="695" cy="1284.3" r="1.2"/></g><rect x="690" y="1284.2" width="2" height="0.6" fill="#ea8a8a"/><path d="M699.5,1283.2 L701.5,1285.4 M701.5,1283.2 L699.5,1285.4" stroke="#ea8a8a" stroke-width="0.6"/>
<rect x="304.5" y="1289.5" width="40" height="210" fill="#f5f5f6"/>
<rect x="344" y="1289.5" width="0.9" height="208" fill="#e2e2e4"/>
<rect x="307.5" y="1299.0" width="3" height="2.6" rx="1" fill="none" stroke="#999" stroke-width="0.5"/><rect x="312.5" y="1299.3" width="9" height="1.9" fill="#8d8d8d"/>
<rect x="307.5" y="1306.0" width="3" height="2.6" rx="1" fill="none" stroke="#999" stroke-width="0.5"/><rect x="312.5" y="1306.3" width="14" height="1.9" fill="#8d8d8d"/>
<rect x="307.5" y="1313.0" width="3" height="2.6" rx="1" fill="none" stroke="#999" stroke-width="0.5"/><rect x="312.5" y="1313.3" width="14" height="1.9" fill="#8d8d8d"/>
<rect x="307.5" y="1320.0" width="3" height="2.6" rx="1" fill="none" stroke="#999" stroke-width="0.5"/><rect x="312.5" y="1320.3" width="9" height="1.9" fill="#8d8d8d"/>
<rect x="307.5" y="1327.0" width="3" height="2.6" rx="1" fill="none" stroke="#999" stroke-width="0.5"/><rect x="312.5" y="1327.3" width="10" height="1.9" fill="#8d8d8d"/>
<rect x="307.5" y="1343.3" width="3" height="2.6" rx="1" fill="none" stroke="#999" stroke-width="0.5"/><rect x="312.5" y="1343.6" width="14" height="1.9" fill="#8d8d8d"/>
<rect x="307.5" y="1350.3" width="3" height="2.6" rx="1" fill="none" stroke="#999" stroke-width="0.5"/><rect x="312.5" y="1350.6" width="12" height="1.9" fill="#8d8d8d"/>
<rect x="307.5" y="1357.3" width="3" height="2.6" rx="1" fill="none" stroke="#999" stroke-width="0.5"/><rect x="312.5" y="1357.6" width="16" height="1.9" fill="#8d8d8d"/>
<rect x="307.5" y="1364.3" width="3" height="2.6" rx="1" fill="none" stroke="#999" stroke-width="0.5"/><rect x="312.5" y="1364.6" width="14" height="1.9" fill="#8d8d8d"/>
<rect x="307.5" y="1371.3" width="3" height="2.6" rx="1" fill="none" stroke="#999" stroke-width="0.5"/><rect x="312.5" y="1371.6" width="8" height="1.9" fill="#8d8d8d"/>
<rect x="307.5" y="1386.8" width="3" height="2.6" rx="1" fill="none" stroke="#999" stroke-width="0.5"/><rect x="312.5" y="1387.1" width="14" height="1.9" fill="#8d8d8d"/>
<rect x="307.5" y="1393.8" width="3" height="2.6" rx="1" fill="none" stroke="#999" stroke-width="0.5"/><rect x="312.5" y="1394.1" width="8" height="1.9" fill="#8d8d8d"/>
<rect x="307.5" y="1400.8" width="3" height="2.6" rx="1" fill="none" stroke="#999" stroke-width="0.5"/><rect x="312.5" y="1401.1" width="18" height="1.9" fill="#8d8d8d"/>
<rect x="307.5" y="1407.8" width="3" height="2.6" rx="1" fill="none" stroke="#999" stroke-width="0.5"/><rect x="312.5" y="1408.1" width="12" height="1.9" fill="#8d8d8d"/>
<rect x="307.5" y="1414.8" width="3" height="2.6" rx="1" fill="none" stroke="#999" stroke-width="0.5"/><rect x="312.5" y="1415.1" width="10" height="1.9" fill="#8d8d8d"/>
<rect x="307.5" y="1421.8" width="3" height="2.6" rx="1" fill="none" stroke="#999" stroke-width="0.5"/><rect x="312.5" y="1422.1" width="14" height="1.9" fill="#8d8d8d"/>
<rect x="307.5" y="1428.8" width="3" height="2.6" rx="1" fill="none" stroke="#999" stroke-width="0.5"/><rect x="312.5" y="1429.1" width="9" height="1.9" fill="#8d8d8d"/>
<rect x="307.5" y="1435.8" width="3" height="2.6" rx="1" fill="none" stroke="#999" stroke-width="0.5"/><rect x="312.5" y="1436.1" width="9" height="1.9" fill="#8d8d8d"/>
<rect x="305.5" y="1297.2" width="38.5" height="6" fill="#e6e6e8"/>
<rect x="306.5" y="1293.5" width="4" height="1.6" fill="#aaa"/><rect x="306.5" y="1337.3" width="10" height="1.6" fill="#aaa"/><rect x="306.5" y="1380.5" width="12" height="1.6" fill="#aaa"/>
<rect x="339.5" y="1364.7" width="3" height="1.6" fill="#e02020"/><rect x="320" y="1326.5" width="1.5" height="1.5" fill="#e02020"/>
<g fill="#9a9a9a"><rect x="474.4" y="1298" width="12" height="1.8"/><rect x="495" y="1298" width="6" height="1.8"/><rect x="510" y="1298" width="14" height="1.8"/><rect x="534" y="1298" width="8" height="1.8"/><rect x="550" y="1298" width="6" height="1.8"/><rect x="564" y="1298" width="13" height="1.8"/></g>
<rect x="474.4" y="1301.6" width="12.5" height="0.9" fill="#d33"/>
<rect x="356" y="1303.4" width="340" height="0.5" fill="#eee"/>
<!-- banner -->
<rect x="416.4" y="1306" width="52.2" height="40.7" fill="#3e434b"/>
<rect x="581.3" y="1306" width="52.3" height="40.7" fill="#3e434b"/>
<text x="421" y="1317.8" font-size="8.2" fill="#8d929b" style="font-family:'Liberation Serif',serif" textLength="47" lengthAdjust="spacingAndGlyphs">实唯(不一样乐</text>
<text x="421" y="1324.2" font-size="3.8" fill="#8d929b" textLength="26" lengthAdjust="spacingAndGlyphs">全新二重奏曲</text>
<text x="420" y="1334" font-size="6.4" fill="#8d929b" style="font-family:'Liberation Serif',serif" textLength="48" lengthAdjust="spacingAndGlyphs">《苦瓜味告》(纪实</text>
<rect x="421" y="1339" width="40" height="0.8" fill="#6a6f78"/>
<text x="587" y="1312" font-size="3.4" fill="#b8bcc4" textLength="35" lengthAdjust="spacingAndGlyphs">领导者人马旅游路</text>
<rect x="596" y="1314.6" width="16" height="1.8" fill="#4a8a9a"/>
<text x="585.6" y="1331.6" font-size="12.2" fill="#8d929b" style="font-family:'Liberation Serif',serif" textLength="44" lengthAdjust="spacingAndGlyphs">Eudemon</text>
<text x="586" y="1338" font-size="4.8" fill="#8d929b" textLength="35" lengthAdjust="spacingAndGlyphs">树林与谁的对话</text>
<rect x="626" y="1342" width="6" height="2.6" fill="#d33"/>
<rect x="468.6" y="1303.5" width="112.7" height="43.2" fill="#c8402b"/>
<text x="478" y="1311.5" font-size="3.2" fill="#222" textLength="14" lengthAdjust="spacingAndGlyphs">新视频首发</text>
<text x="486.5" y="1312.6" font-size="5.5" font-weight="bold" fill="#1a1a1a" style="font-family:'Liberation Serif',serif" textLength="11" lengthAdjust="spacingAndGlyphs">鹤泊</text>
<rect x="482.5" y="1314" width="25" height="2.4" fill="#84c4cc"/>
<text x="473.5" y="1329.5" font-size="11" font-weight="bold" fill="#1a1410" style="font-family:'Liberation Serif',serif" textLength="43" lengthAdjust="spacingAndGlyphs">银蔓长北</text>
<text x="473.5" y="1342.5" font-size="11" font-weight="bold" fill="#1a1410" style="font-family:'Liberation Serif',serif" textLength="47" lengthAdjust="spacingAndGlyphs">东 斑一斑</text>
<!-- tiger -->
<path d="M540,1346.7 Q533,1340 535,1332 Q538,1326 545,1326 L552,1346.7 Z" fill="#1f8a62"/>
<path d="M538,1310 Q538,1303.5 552,1303.5 Q566,1303.5 568,1310 L570,1322 Q569,1331 560,1333 Q548,1334 542,1328 Q538,1320 538,1310 Z" fill="#e6ad36"/>
<path d="M537,1303.5 H569 L567,1309 Q552,1305 539,1309 Z" fill="#111"/>
<path d="M541,1304.5 L546,1307.5 M551,1303.5 V1306.5 M561,1304.5 L556,1307.5" stroke="#fff" stroke-width="1"/>
<ellipse cx="546" cy="1314.5" rx="5.4" ry="4.2" fill="#fff" stroke="#111" stroke-width="1.4"/>
<ellipse cx="560" cy="1314.5" rx="5.4" ry="4.2" fill="#fff" stroke="#111" stroke-width="1.4"/>
<circle cx="547" cy="1315.5" r="2" fill="#111"/><circle cx="559" cy="1315.5" r="2" fill="#111"/>
<circle cx="535" cy="1317" r="3.2" fill="#b3241e"/><circle cx="571" cy="1317" r="3.2" fill="#b3241e"/>
<path d="M549,1321 Q553,1324 557,1321" stroke="#111" stroke-width="1" fill="none"/>
<rect x="548" y="1325" width="22" height="14" rx="2" fill="#2a2224"/>
<rect x="549.5" y="1326.5" width="19" height="11" rx="1.5" fill="#cf3a2c"/>
<circle cx="559" cy="1332" r="4.6" fill="#f1e2c6"/><circle cx="559" cy="1332" r="2.4" fill="#c8402b"/>
<path d="M569,1322 Q576,1320 577,1328 Q576,1335 570,1336 Z" fill="#e9b23a"/>
<rect x="553" y="1339" width="6" height="7.7" fill="#2a2224"/>
<rect x="575" y="1341.5" width="5" height="3" fill="#fff" opacity="0.8"/>
<g fill="#ccc"><rect x="504" y="1349" width="2" height="0.8"/><rect x="508" y="1349" width="2" height="0.8"/><rect x="512" y="1349" width="2" height="0.8"/><rect x="516" y="1349" width="2" height="0.8"/><rect x="524" y="1349" width="2" height="0.8"/><rect x="528" y="1349" width="2" height="0.8"/><rect x="532" y="1349" width="2" height="0.8"/></g>
<rect x="520" y="1349" width="2.5" height="0.9" fill="#d33"/>
<rect x="416.4" y="1354.5" width="14" height="2.2" fill="#444"/>
<rect x="627" y="1355" width="6" height="1.4" fill="#888"/>
<!-- cards row 1 -->
<rect x="416.4" y="1361.7" width="39.6" height="41.4" fill="#fff"/>
<rect x="429" y="1370" width="14" height="2.5" fill="#c9a9a9"/>
<text x="431.3" y="1394.3" font-size="19" fill="#c7201e" textLength="9.6" lengthAdjust="spacingAndGlyphs">5</text>
<defs>
<linearGradient id="c2g" x1="0" y1="0" x2="0" y2="1"><stop offset="0" stop-color="#e6e6e6"/><stop offset="0.6" stop-color="#cfcfcf"/><stop offset="1" stop-color="#b8b8b8"/></linearGradient>
<linearGradient id="c3g" x1="0" y1="0" x2="0" y2="1"><stop offset="0" stop-color="#7a6aa6"/><stop offset="0.5" stop-color="#c795b8"/><stop offset="1" stop-color="#e4b3ae"/></linearGradient>
<linearGradient id="c5g" x1="0" y1="0" x2="0" y2="1"><stop offset="0" stop-color="#a9b6bc"/><stop offset="1" stop-color="#8e9ca3"/></linearGradient>
</defs>
<rect x="460.6" y="1361.7" width="40.2" height="41.4" fill="url(#c2g)"/>
<rect x="462" y="1365" width="16" height="30" fill="#f4f4f4" opacity="0.6"/>
<path d="M469,1389 L474,1378 Q482,1372 488,1376 L492,1386 L496,1388 V1392 H470 Z" fill="#0f0f0f"/>
<rect x="472" y="1392" width="1.2" height="7" fill="#111"/><rect x="493" y="1392" width="1.2" height="7" fill="#111"/><rect x="484" y="1392" width="1" height="5" fill="#111"/>
<rect x="462" y="1366" width="9" height="2" fill="#fff"/>
<rect x="504.8" y="1361.7" width="40.4" height="41.4" fill="url(#c3g)"/>
<rect x="506" y="1384" width="8" height="17" fill="#8e8a88"/><rect x="533" y="1382" width="10" height="19" fill="#9a9694"/>
<path d="M521,1374 Q524,1370 527,1374 L528,1382 L531,1398 H517 L520,1382 Z" fill="#2a2224"/>
<circle cx="524" cy="1372" r="2.4" fill="#2a2020"/>
<rect x="548.9" y="1361.7" width="40.5" height="41.4" fill="#7a2a22"/>
<rect x="550" y="1364" width="12" height="16" fill="#c84a38"/><rect x="565" y="1363" width="10" height="10" fill="#d8c0a0"/><rect x="576" y="1368" width="12" height="14" fill="#c0503a"/>
<rect x="560" y="1378" width="16" height="10" fill="#e8d8a0"/><rect x="566" y="1381" width="6" height="5" fill="#2f8a4a"/>
<rect x="548.9" y="1392" width="40.5" height="11.1" fill="#3a1e18"/>
<rect x="551" y="1394" width="36" height="5" fill="#f2f2f2"/>
<rect x="593" y="1361.7" width="40.6" height="41.4" fill="#2aa293"/>
<rect x="593" y="1361.7" width="40.6" height="5" fill="#1c7f74"/>
<rect x="595" y="1368" width="14" height="21" fill="#e0507a"/><rect x="612" y="1370" width="15" height="18" fill="#4ec08a"/><rect x="629" y="1370" width="4.6" height="21" fill="#e0507a"/>
<rect x="597" y="1377" width="10" height="5" fill="#f5d6e0"/><rect x="614" y="1376" width="11" height="5" fill="#f5d6e0"/>
<g fill="#666" opacity="0.7"><rect x="480" y="1363" width="18" height="2.2"/><rect x="525" y="1363" width="18" height="2.2"/><rect x="569" y="1363" width="18" height="2.2"/><rect x="613" y="1363" width="18" height="2.2"/></g>
<!-- cards row 2 -->
<rect x="416.4" y="1420.3" width="39.6" height="42.1" fill="#ece8e4"/>
<rect x="416.4" y="1420.3" width="39.6" height="4" fill="#d4d4d4"/>
<path d="M426,1462.4 Q428,1450 434,1448 Q428,1442 429,1434 Q431,1426 437,1426 Q444,1426 445,1434 Q446,1442 441,1448 Q448,1450 450,1462.4 Z" fill="#1c1a1a"/>
<ellipse cx="437" cy="1437" rx="5" ry="6" fill="#e8c4b4"/>
<rect x="460.6" y="1420.3" width="40.2" height="42.1" fill="#f0eeee"/>
<rect x="462.5" y="1423.5" width="34" height="36" fill="#dcc2c6"/>
<path d="M472,1424 H475 V1432 Q478,1436 478,1442 V1458 H469 V1442 Q469,1436 472,1432 Z" fill="#e98e98"/>
<rect x="504.8" y="1420.3" width="40.4" height="42.1" fill="#f6f2ee"/>
<path d="M505,1462.4 V1440 Q508,1432 515,1434 L521,1440 L524,1462.4 Z" fill="#e0cfb4"/>
<path d="M507,1432 Q510,1421 520,1421 Q530,1421 528,1432 L522,1430 Q515,1428 510,1434 Z" fill="#2a2430"/>
<path d="M528,1462.4 Q526,1450 532,1446 Q540,1444 544,1450 V1462.4 Z" fill="#b52a36"/>
<path d="M529,1446 Q528,1434 536,1433 Q544,1434 545,1444 Z" fill="#2b2430"/>
<ellipse cx="519" cy="1438" rx="5" ry="5.5" fill="#f0d8c8"/><ellipse cx="535" cy="1443" rx="4" ry="4.5" fill="#f0d8c8"/>
<rect x="548.9" y="1420.3" width="40.5" height="42.1" fill="#b48c92"/>
<rect x="548.9" y="1424" width="40.5" height="10" fill="#c9a0a6"/>
<path d="M560,1462.4 L562,1444 Q566,1438 570,1444 L572,1462.4 Z" fill="#f2ece8"/>
<circle cx="566" cy="1437" r="3" fill="#3a2a2a"/>
<rect x="576" y="1445" width="13" height="8" fill="#9a7a80"/>
<rect x="593" y="1420.3" width="40.6" height="42.1" fill="url(#c5g)"/>
<path d="M604,1462.4 Q606,1450 612,1448 Q606,1444 606,1434 Q608,1426 615,1426 Q622,1426 624,1434 Q625,1444 620,1448 Q627,1451 630,1462.4 Z" fill="#d8c6a0"/>
<path d="M606,1432 Q608,1422 617,1423 Q627,1424 629,1436 L626,1438 Q622,1428 614,1429 Z" fill="#1c1c1e"/>
<ellipse cx="614.5" cy="1439" rx="4.5" ry="6" fill="#ecd6c8"/>
<path d="M608,1462.4 Q612,1454 618,1454 Q626,1454 630,1462.4 Z" fill="#151515"/>
<g fill="#888" opacity="0.6"><rect x="436" y="1421.3" width="18" height="2"/><rect x="480" y="1421.3" width="18" height="2"/><rect x="525" y="1421.3" width="18" height="2"/><rect x="569" y="1421.3" width="18" height="2"/><rect x="613" y="1421.3" width="18" height="2"/></g>
<rect x="416.4" y="1405.5" width="38" height="1.4" fill="#9a9a9a"/>
<rect x="416.4" y="1409.5" width="12" height="1.4" fill="#9a9a9a"/>
<rect x="416.4" y="1464.5" width="38" height="1.4" fill="#9a9a9a"/>
<rect x="416.4" y="1468.5" width="16" height="1.4" fill="#9a9a9a"/>
<rect x="460.6" y="1405.5" width="34" height="1.4" fill="#9a9a9a"/>
<rect x="460.6" y="1409.5" width="12" height="1.4" fill="#9a9a9a"/>
<rect x="460.6" y="1464.5" width="38" height="1.4" fill="#9a9a9a"/>
<rect x="504.8" y="1405.5" width="24" height="1.4" fill="#9a9a9a"/>
<rect x="504.8" y="1409.5" width="20" height="1.4" fill="#9a9a9a"/>
<rect x="504.8" y="1464.5" width="30" height="1.4" fill="#9a9a9a"/>
<rect x="504.8" y="1468.5" width="16" height="1.4" fill="#9a9a9a"/>
<rect x="548.9" y="1405.5" width="34" height="1.4" fill="#9a9a9a"/>
<rect x="548.9" y="1409.5" width="20" height="1.4" fill="#9a9a9a"/>
<rect x="548.9" y="1464.5" width="30" height="1.4" fill="#9a9a9a"/>
<rect x="548.9" y="1468.5" width="16" height="1.4" fill="#9a9a9a"/>
<rect x="593.0" y="1405.5" width="24" height="1.4" fill="#9a9a9a"/>
<rect x="593.0" y="1464.5" width="38" height="1.4" fill="#9a9a9a"/>
<rect x="416.4" y="1484.5" width="16" height="2.2" fill="#444"/>
<rect x="627" y="1485" width="6" height="1.4" fill="#888"/>
<rect x="416.4" y="1491.6" width="69.6" height="5.6" fill="#1e2768"/>
<rect x="421" y="1493" width="14" height="2" fill="#e6c040"/><circle cx="466" cy="1495" r="2.5" fill="#d9a030"/>
<rect x="491" y="1491.6" width="23.6" height="5.6" fill="#d6d8dc"/>
<circle cx="493.5" cy="1495" r="2" fill="#888"/>
<rect x="514.6" y="1491.6" width="45" height="5.6" fill="#1b2a3c"/>
<rect x="563.6" y="1491.6" width="70" height="5.6" fill="#c9cdd2"/>
<circle cx="573" cy="1496" r="3" fill="#333"/><circle cx="613" cy="1496" r="3" fill="#333"/>
<rect x="304.5" y="1497.4" width="399.5" height="9.2" fill="#f7f7f7"/>
<rect x="304.5" y="1497.4" width="399.5" height="0.6" fill="#e4e4e4"/>
<rect x="307" y="1501" width="7" height="1.2" fill="#aaa"/>
<rect x="345" y="1501.5" width="288" height="1" fill="#d6d6d6"/>
<rect x="345" y="1501.2" width="127" height="1.6" fill="#e0393a"/>
<rect x="636" y="1501" width="6" height="1.2" fill="#999"/>
<rect x="650" y="1500.5" width="3" height="2.6" fill="#555"/><rect x="655" y="1501.3" width="9" height="1.2" fill="#e0393a"/><rect x="664" y="1501.3" width="8" height="1.2" fill="#ccc"/>
<g fill="#777"><rect x="684" y="1500.5" width="2.6" height="2.4"/><rect x="690" y="1500.5" width="2.6" height="2.4"/><rect x="695" y="1500.5" width="6" height="2.4"/></g>
<rect x="303" y="1506.6" width="402.4" height="9.4" fill="#2a2a2b"/>
<rect x="303" y="1506.6" width="402.4" height="1.2" fill="#1b1b1b"/>
<rect x="702.5" y="1373" width="3" height="11" fill="#3a4a48"/>
<!-- stand -->
<rect x="495.6" y="1515.6" width="17.6" height="41" fill="#262627"/>
<rect x="496" y="1515.6" width="4" height="39" fill="#303031"/>
<path d="M375,1579.5 L492,1557 Q504,1552.5 514.5,1557 L633,1578.6 L633,1587 L504,1567.5 L375,1585.5 Z" fill="#262627"/>
<path d="M375,1579.5 L492,1557 Q504,1552.5 514.5,1557 L633,1578.6" fill="none" stroke="#3a3a3b" stroke-width="1"/>
</g>

<!-- keyboard -->
<g id="kbd">
<path d="M524.9,1155 Q524.9,1150.4 529.5,1150.4 H772.5 Q777.2,1150.4 777.2,1155 V1226 Q777.2,1230.5 772.5,1230.5 H650 Q610,1236 570,1230.5 H529.5 Q524.9,1230.5 524.9,1226 Z" fill="#1d1d1f"/>
<rect x="525.9" y="1152.8" width="9.4" height="10.1" rx="1.2" fill="url(#keyG)"/>
<rect x="539.4" y="1152.8" width="8.6" height="10.1" rx="1.2" fill="url(#keyG)"/>
<rect x="549.7" y="1152.8" width="8.6" height="10.1" rx="1.2" fill="url(#keyG)"/>
<rect x="560.0" y="1152.8" width="8.6" height="10.1" rx="1.2" fill="url(#keyG)"/>
<rect x="570.3" y="1152.8" width="8.6" height="10.1" rx="1.2" fill="url(#keyG)"/>
<rect x="581.4" y="1152.8" width="8.6" height="10.1" rx="1.2" fill="url(#keyG)"/>
<rect x="591.7" y="1152.8" width="8.6" height="10.1" rx="1.2" fill="url(#keyG)"/>
<rect x="602.0" y="1152.8" width="8.6" height="10.1" rx="1.2" fill="url(#keyG)"/>
<rect x="612.3" y="1152.8" width="8.6" height="10.1" rx="1.2" fill="url(#keyG)"/>
<rect x="623.4" y="1152.8" width="8.6" height="10.1" rx="1.2" fill="url(#keyG)"/>
<rect x="633.7" y="1152.8" width="8.6" height="10.1" rx="1.2" fill="url(#keyG)"/>
<rect x="644.0" y="1152.8" width="8.6" height="10.1" rx="1.2" fill="url(#keyG)"/>
<rect x="654.3" y="1152.8" width="8.6" height="10.1" rx="1.2" fill="url(#keyG)"/>
<rect x="669.7" y="1152.8" width="39.9" height="10.1" rx="1.2" fill="url(#keyG)"/>
<rect x="713.2" y="1152.8" width="8.6" height="10.1" rx="1.2" fill="url(#keyG)"/>
<rect x="723.8" y="1152.8" width="8.6" height="10.1" rx="1.2" fill="url(#keyG)"/>
<rect x="734.5" y="1152.8" width="8.6" height="10.1" rx="1.2" fill="url(#keyG)"/>
<rect x="745.8" y="1152.8" width="8.6" height="10.1" rx="1.2" fill="url(#keyG)"/>
<rect x="756.7" y="1152.8" width="8.6" height="10.1" rx="1.2" fill="url(#keyG)"/>
<rect x="767.6" y="1152.8" width="8.6" height="10.1" rx="1.2" fill="url(#keyG)"/>
<rect x="525.9" y="1166.8" width="10.3" height="9.4" rx="1.2" fill="url(#keyG)"/>
<rect x="538.2" y="1166.8" width="10.3" height="9.4" rx="1.2" fill="url(#keyG)"/>
<rect x="550.5" y="1166.8" width="10.3" height="9.4" rx="1.2" fill="url(#keyG)"/>
<rect x="562.8" y="1166.8" width="10.3" height="9.4" rx="1.2" fill="url(#keyG)"/>
<rect x="575.1" y="1166.8" width="10.3" height="9.4" rx="1.2" fill="url(#keyG)"/>
<rect x="587.4" y="1166.8" width="10.3" height="9.4" rx="1.2" fill="url(#keyG)"/>
<rect x="599.7" y="1166.8" width="10.3" height="9.4" rx="1.2" fill="url(#keyG)"/>
<rect x="612.0" y="1166.8" width="10.3" height="9.4" rx="1.2" fill="url(#keyG)"/>
<rect x="624.3" y="1166.8" width="10.3" height="9.4" rx="1.2" fill="url(#keyG)"/>
<rect x="636.6" y="1166.8" width="10.3" height="9.4" rx="1.2" fill="url(#keyG)"/>
<rect x="648.9" y="1166.8" width="10.3" height="9.4" rx="1.2" fill="url(#keyG)"/>
<rect x="661.2" y="1166.8" width="10.3" height="9.4" rx="1.2" fill="url(#keyG)"/>
<rect x="673.5" y="1166.8" width="10.3" height="9.4" rx="1.2" fill="url(#keyG)"/>
<rect x="686.7" y="1166.8" width="23.6" height="9.4" rx="1.2" fill="url(#keyG)"/>
<rect x="525.9" y="1178.9" width="15.9" height="9.7" rx="1.2" fill="url(#keyG)"/>
<rect x="544.3" y="1178.9" width="10.3" height="9.7" rx="1.2" fill="url(#keyG)"/>
<rect x="556.6" y="1178.9" width="10.3" height="9.7" rx="1.2" fill="url(#keyG)"/>
<rect x="568.9" y="1178.9" width="10.3" height="9.7" rx="1.2" fill="url(#keyG)"/>
<rect x="581.2" y="1178.9" width="10.3" height="9.7" rx="1.2" fill="url(#keyG)"/>
<rect x="593.5" y="1178.9" width="10.3" height="9.7" rx="1.2" fill="url(#keyG)"/>
<rect x="605.8" y="1178.9" width="10.3" height="9.7" rx="1.2" fill="url(#keyG)"/>
<rect x="618.1" y="1178.9" width="10.3" height="9.7" rx="1.2" fill="url(#keyG)"/>
<rect x="630.4" y="1178.9" width="10.3" height="9.7" rx="1.2" fill="url(#keyG)"/>
<rect x="642.7" y="1178.9" width="10.3" height="9.7" rx="1.2" fill="url(#keyG)"/>
<rect x="655.0" y="1178.9" width="10.3" height="9.7" rx="1.2" fill="url(#keyG)"/>
<rect x="667.3" y="1178.9" width="10.3" height="9.7" rx="1.2" fill="url(#keyG)"/>
<rect x="679.6" y="1178.9" width="10.3" height="9.7" rx="1.2" fill="url(#keyG)"/>
<rect x="692.0" y="1178.9" width="18.3" height="9.7" rx="1.2" fill="url(#keyG)"/>
<rect x="525.9" y="1191.5" width="18.6" height="9.4" rx="1.2" fill="url(#keyG)"/>
<rect x="547.3" y="1191.5" width="10.3" height="9.4" rx="1.2" fill="url(#keyG)"/>
<rect x="559.6" y="1191.5" width="10.3" height="9.4" rx="1.2" fill="url(#keyG)"/>
<rect x="571.9" y="1191.5" width="10.3" height="9.4" rx="1.2" fill="url(#keyG)"/>
<rect x="584.2" y="1191.5" width="10.3" height="9.4" rx="1.2" fill="url(#keyG)"/>
<rect x="596.5" y="1191.5" width="10.3" height="9.4" rx="1.2" fill="url(#keyG)"/>
<rect x="608.8" y="1191.5" width="10.3" height="9.4" rx="1.2" fill="url(#keyG)"/>
<rect x="621.1" y="1191.5" width="10.3" height="9.4" rx="1.2" fill="url(#keyG)"/>
<rect x="633.4" y="1191.5" width="10.3" height="9.4" rx="1.2" fill="url(#keyG)"/>
<rect x="645.7" y="1191.5" width="10.3" height="9.4" rx="1.2" fill="url(#keyG)"/>
<rect x="658.0" y="1191.5" width="10.3" height="9.4" rx="1.2" fill="url(#keyG)"/>
<rect x="670.3" y="1191.5" width="10.3" height="9.4" rx="1.2" fill="url(#keyG)"/>
<rect x="683.5" y="1191.5" width="26.8" height="9.4" rx="1.2" fill="url(#keyG)"/>
<rect x="525.9" y="1203.8" width="25.3" height="9.4" rx="1.2" fill="url(#keyG)"/>
<rect x="553.8" y="1203.8" width="10.3" height="9.4" rx="1.2" fill="url(#keyG)"/>
<rect x="566.1" y="1203.8" width="10.3" height="9.4" rx="1.2" fill="url(#keyG)"/>
<rect x="578.4" y="1203.8" width="10.3" height="9.4" rx="1.2" fill="url(#keyG)"/>
<rect x="590.7" y="1203.8" width="10.3" height="9.4" rx="1.2" fill="url(#keyG)"/>
<rect x="603.0" y="1203.8" width="10.3" height="9.4" rx="1.2" fill="url(#keyG)"/>
<rect x="615.3" y="1203.8" width="10.3" height="9.4" rx="1.2" fill="url(#keyG)"/>
<rect x="627.6" y="1203.8" width="10.3" height="9.4" rx="1.2" fill="url(#keyG)"/>
<rect x="639.9" y="1203.8" width="10.3" height="9.4" rx="1.2" fill="url(#keyG)"/>
<rect x="652.2" y="1203.8" width="10.3" height="9.4" rx="1.2" fill="url(#keyG)"/>
<rect x="664.5" y="1203.8" width="10.3" height="9.4" rx="1.2" fill="url(#keyG)"/>
<rect x="677.4" y="1203.8" width="32.9" height="9.4" rx="1.2" fill="url(#keyG)"/>
<rect x="525.9" y="1216.6" width="12.7" height="12.1" rx="1.2" fill="url(#keyG)"/>
<rect x="541.4" y="1216.6" width="12.6" height="12.1" rx="1.2" fill="url(#keyG)"/>
<rect x="557.0" y="1216.6" width="12.8" height="12.1" rx="1.2" fill="url(#keyG)"/>
<path d="M572.7,1216.6 H647.7 V1228.7 Q610,1233.2 572.7,1228.7 Z" fill="url(#keyG)"/>
<rect x="650.0" y="1216.6" width="9.8" height="12.1" rx="1.2" fill="url(#keyG)"/>
<rect x="662.4" y="1216.6" width="9.8" height="12.1" rx="1.2" fill="url(#keyG)"/>
<rect x="674.8" y="1216.6" width="9.8" height="12.1" rx="1.2" fill="url(#keyG)"/>
<rect x="687.2" y="1216.6" width="9.8" height="12.1" rx="1.2" fill="url(#keyG)"/>
<rect x="713.4" y="1166.8" width="10.7" height="9.4" rx="1.2" fill="url(#keyG)"/>
<rect x="713.4" y="1178.9" width="10.7" height="9.7" rx="1.2" fill="url(#keyG)"/>
<rect x="713.4" y="1191.5" width="10.7" height="9.4" rx="1.2" fill="url(#keyG)"/>
<rect x="713.6" y="1209.5" width="10.6" height="9.0" rx="1.2" fill="url(#keyG)"/>
<rect x="701.2" y="1220.0" width="10.2" height="9.0" rx="1.2" fill="url(#keyG)"/>
<rect x="713.6" y="1220.0" width="10.2" height="9.0" rx="1.2" fill="url(#keyG)"/>
<rect x="726.0" y="1220.0" width="10.2" height="9.0" rx="1.2" fill="url(#keyG)"/>
<rect x="728.2" y="1166.8" width="10.0" height="9.4" rx="1.2" fill="url(#keyG)"/>
<rect x="740.6" y="1166.8" width="10.0" height="9.4" rx="1.2" fill="url(#keyG)"/>
<rect x="753.0" y="1166.8" width="10.0" height="9.4" rx="1.2" fill="url(#keyG)"/>
<rect x="765.4" y="1166.8" width="10.0" height="9.4" rx="1.2" fill="url(#keyG)"/>
<rect x="728.2" y="1178.9" width="10.0" height="9.7" rx="1.2" fill="url(#keyG)"/>
<rect x="740.6" y="1178.9" width="10.0" height="9.7" rx="1.2" fill="url(#keyG)"/>
<rect x="753.0" y="1178.9" width="10.0" height="9.7" rx="1.2" fill="url(#keyG)"/>
<rect x="728.2" y="1191.5" width="10.0" height="9.4" rx="1.2" fill="url(#keyG)"/>
<rect x="740.6" y="1191.5" width="10.0" height="9.4" rx="1.2" fill="url(#keyG)"/>
<rect x="753.0" y="1191.5" width="10.0" height="9.4" rx="1.2" fill="url(#keyG)"/>
<rect x="728.2" y="1203.8" width="10.0" height="9.4" rx="1.2" fill="url(#keyG)"/>
<rect x="740.6" y="1203.8" width="10.0" height="9.4" rx="1.2" fill="url(#keyG)"/>
<rect x="753.0" y="1203.8" width="10.0" height="9.4" rx="1.2" fill="url(#keyG)"/>
<rect x="728.2" y="1216.6" width="22.2" height="12.1" rx="1.2" fill="url(#keyG)"/>
<rect x="753.0" y="1216.6" width="10.0" height="12.1" rx="1.2" fill="url(#keyG)"/>
<rect x="765.4" y="1178.9" width="10.6" height="22.0" rx="1.2" fill="url(#keyG)"/>
<rect x="765.4" y="1203.8" width="10.6" height="24.9" rx="1.2" fill="url(#keyG)"/>
<rect x="527.9" y="1154.8" width="1.6" height="1.1" fill="#bdbdbd" opacity="0.7"/>
<rect x="541.4" y="1154.8" width="1.6" height="1.1" fill="#bdbdbd" opacity="0.7"/>
<rect x="551.7" y="1154.8" width="1.6" height="1.1" fill="#bdbdbd" opacity="0.7"/>
<rect x="562.0" y="1154.8" width="1.6" height="1.1" fill="#bdbdbd" opacity="0.7"/>
<rect x="572.3" y="1154.8" width="1.6" height="1.1" fill="#bdbdbd" opacity="0.7"/>
<rect x="583.4" y="1154.8" width="1.6" height="1.1" fill="#bdbdbd" opacity="0.7"/>
<rect x="593.7" y="1154.8" width="1.6" height="1.1" fill="#bdbdbd" opacity="0.7"/>
<rect x="604.0" y="1154.8" width="1.6" height="1.1" fill="#bdbdbd" opacity="0.7"/>
<rect x="614.3" y="1154.8" width="1.6" height="1.1" fill="#bdbdbd" opacity="0.7"/>
<rect x="625.4" y="1154.8" width="1.6" height="1.1" fill="#bdbdbd" opacity="0.7"/>
<rect x="635.7" y="1154.8" width="1.6" height="1.1" fill="#bdbdbd" opacity="0.7"/>
<rect x="646.0" y="1154.8" width="1.6" height="1.1" fill="#bdbdbd" opacity="0.7"/>
<rect x="656.3" y="1154.8" width="1.6" height="1.1" fill="#bdbdbd" opacity="0.7"/>
<rect x="671.7" y="1154.8" width="1.6" height="1.1" fill="#bdbdbd" opacity="0.7"/>
<rect x="715.2" y="1154.8" width="1.6" height="1.1" fill="#bdbdbd" opacity="0.7"/>
<rect x="725.8" y="1154.8" width="1.6" height="1.1" fill="#bdbdbd" opacity="0.7"/>
<rect x="736.5" y="1154.8" width="1.6" height="1.1" fill="#bdbdbd" opacity="0.7"/>
<rect x="747.8" y="1154.8" width="1.6" height="1.1" fill="#bdbdbd" opacity="0.7"/>
<rect x="758.7" y="1154.8" width="1.6" height="1.1" fill="#bdbdbd" opacity="0.7"/>
<rect x="769.6" y="1154.8" width="1.6" height="1.1" fill="#bdbdbd" opacity="0.7"/>
<rect x="527.9" y="1168.8" width="1.6" height="1.1" fill="#bdbdbd" opacity="0.7"/>
<rect x="540.2" y="1168.8" width="1.6" height="1.1" fill="#bdbdbd" opacity="0.7"/>
<rect x="552.5" y="1168.8" width="1.6" height="1.1" fill="#bdbdbd" opacity="0.7"/>
<rect x="564.8" y="1168.8" width="1.6" height="1.1" fill="#bdbdbd" opacity="0.7"/>
<rect x="577.1" y="1168.8" width="1.6" height="1.1" fill="#bdbdbd" opacity="0.7"/>
<rect x="589.4" y="1168.8" width="1.6" height="1.1" fill="#bdbdbd" opacity="0.7"/>
<rect x="601.7" y="1168.8" width="1.6" height="1.1" fill="#bdbdbd" opacity="0.7"/>
<rect x="614.0" y="1168.8" width="1.6" height="1.1" fill="#bdbdbd" opacity="0.7"/>
<rect x="626.3" y="1168.8" width="1.6" height="1.1" fill="#bdbdbd" opacity="0.7"/>
<rect x="638.6" y="1168.8" width="1.6" height="1.1" fill="#bdbdbd" opacity="0.7"/>
<rect x="650.9" y="1168.8" width="1.6" height="1.1" fill="#bdbdbd" opacity="0.7"/>
<rect x="663.2" y="1168.8" width="1.6" height="1.1" fill="#bdbdbd" opacity="0.7"/>
<rect x="675.5" y="1168.8" width="1.6" height="1.1" fill="#bdbdbd" opacity="0.7"/>
<rect x="688.7" y="1168.8" width="1.6" height="1.1" fill="#bdbdbd" opacity="0.7"/>
<rect x="527.9" y="1180.9" width="1.6" height="1.1" fill="#bdbdbd" opacity="0.7"/>
<rect x="546.3" y="1180.9" width="1.6" height="1.1" fill="#bdbdbd" opacity="0.7"/>
<rect x="558.6" y="1180.9" width="1.6" height="1.1" fill="#bdbdbd" opacity="0.7"/>
<rect x="570.9" y="1180.9" width="1.6" height="1.1" fill="#bdbdbd" opacity="0.7"/>
<rect x="583.2" y="1180.9" width="1.6" height="1.1" fill="#bdbdbd" opacity="0.7"/>
<rect x="595.5" y="1180.9" width="1.6" height="1.1" fill="#bdbdbd" opacity="0.7"/>
<rect x="607.8" y="1180.9" width="1.6" height="1.1" fill="#bdbdbd" opacity="0.7"/>
<rect x="620.1" y="1180.9" width="1.6" height="1.1" fill="#bdbdbd" opacity="0.7"/>
<rect x="632.4" y="1180.9" width="1.6" height="1.1" fill="#bdbdbd" opacity="0.7"/>
<rect x="644.7" y="1180.9" width="1.6" height="1.1" fill="#bdbdbd" opacity="0.7"/>
<rect x="657.0" y="1180.9" width="1.6" height="1.1" fill="#bdbdbd" opacity="0.7"/>
<rect x="669.3" y="1180.9" width="1.6" height="1.1" fill="#bdbdbd" opacity="0.7"/>
<rect x="681.6" y="1180.9" width="1.6" height="1.1" fill="#bdbdbd" opacity="0.7"/>
<rect x="694.0" y="1180.9" width="1.6" height="1.1" fill="#bdbdbd" opacity="0.7"/>
<rect x="527.9" y="1193.5" width="1.6" height="1.1" fill="#bdbdbd" opacity="0.7"/>
<rect x="549.3" y="1193.5" width="1.6" height="1.1" fill="#bdbdbd" opacity="0.7"/>
<rect x="561.6" y="1193.5" width="1.6" height="1.1" fill="#bdbdbd" opacity="0.7"/>
<rect x="573.9" y="1193.5" width="1.6" height="1.1" fill="#bdbdbd" opacity="0.7"/>
<rect x="586.2" y="1193.5" width="1.6" height="1.1" fill="#bdbdbd" opacity="0.7"/>
<rect x="598.5" y="1193.5" width="1.6" height="1.1" fill="#bdbdbd" opacity="0.7"/>
<rect x="610.8" y="1193.5" width="1.6" height="1.1" fill="#bdbdbd" opacity="0.7"/>
<rect x="623.1" y="1193.5" width="1.6" height="1.1" fill="#bdbdbd" opacity="0.7"/>
<rect x="635.4" y="1193.5" width="1.6" height="1.1" fill="#bdbdbd" opacity="0.7"/>
<rect x="647.7" y="1193.5" width="1.6" height="1.1" fill="#bdbdbd" opacity="0.7"/>
<rect x="660.0" y="1193.5" width="1.6" height="1.1" fill="#bdbdbd" opacity="0.7"/>
<rect x="672.3" y="1193.5" width="1.6" height="1.1" fill="#bdbdbd" opacity="0.7"/>
<rect x="685.5" y="1193.5" width="1.6" height="1.1" fill="#bdbdbd" opacity="0.7"/>
<rect x="527.9" y="1205.8" width="1.6" height="1.1" fill="#bdbdbd" opacity="0.7"/>
<rect x="555.8" y="1205.8" width="1.6" height="1.1" fill="#bdbdbd" opacity="0.7"/>
<rect x="568.1" y="1205.8" width="1.6" height="1.1" fill="#bdbdbd" opacity="0.7"/>
<rect x="580.4" y="1205.8" width="1.6" height="1.1" fill="#bdbdbd" opacity="0.7"/>
<rect x="592.7" y="1205.8" width="1.6" height="1.1" fill="#bdbdbd" opacity="0.7"/>
<rect x="605.0" y="1205.8" width="1.6" height="1.1" fill="#bdbdbd" opacity="0.7"/>
<rect x="617.3" y="1205.8" width="1.6" height="1.1" fill="#bdbdbd" opacity="0.7"/>
<rect x="629.6" y="1205.8" width="1.6" height="1.1" fill="#bdbdbd" opacity="0.7"/>
<rect x="641.9" y="1205.8" width="1.6" height="1.1" fill="#bdbdbd" opacity="0.7"/>
<rect x="654.2" y="1205.8" width="1.6" height="1.1" fill="#bdbdbd" opacity="0.7"/>
<rect x="666.5" y="1205.8" width="1.6" height="1.1" fill="#bdbdbd" opacity="0.7"/>
<rect x="679.4" y="1205.8" width="1.6" height="1.1" fill="#bdbdbd" opacity="0.7"/>
<rect x="527.9" y="1218.6" width="1.6" height="1.1" fill="#bdbdbd" opacity="0.7"/>
<rect x="543.4" y="1218.6" width="1.6" height="1.1" fill="#bdbdbd" opacity="0.7"/>
<rect x="559.0" y="1218.6" width="1.6" height="1.1" fill="#bdbdbd" opacity="0.7"/>
<rect x="652.0" y="1218.6" width="1.6" height="1.1" fill="#bdbdbd" opacity="0.7"/>
<rect x="664.4" y="1218.6" width="1.6" height="1.1" fill="#bdbdbd" opacity="0.7"/>
<rect x="676.8" y="1218.6" width="1.6" height="1.1" fill="#bdbdbd" opacity="0.7"/>
<rect x="689.2" y="1218.6" width="1.6" height="1.1" fill="#bdbdbd" opacity="0.7"/>
<rect x="715.4" y="1168.8" width="1.6" height="1.1" fill="#bdbdbd" opacity="0.7"/>
<rect x="715.4" y="1180.9" width="1.6" height="1.1" fill="#bdbdbd" opacity="0.7"/>
<rect x="715.4" y="1193.5" width="1.6" height="1.1" fill="#bdbdbd" opacity="0.7"/>
<rect x="715.6" y="1211.5" width="1.6" height="1.1" fill="#bdbdbd" opacity="0.7"/>
<rect x="703.2" y="1222.0" width="1.6" height="1.1" fill="#bdbdbd" opacity="0.7"/>
<rect x="715.6" y="1222.0" width="1.6" height="1.1" fill="#bdbdbd" opacity="0.7"/>
<rect x="728.0" y="1222.0" width="1.6" height="1.1" fill="#bdbdbd" opacity="0.7"/>
<rect x="730.2" y="1168.8" width="1.6" height="1.1" fill="#bdbdbd" opacity="0.7"/>
<rect x="742.6" y="1168.8" width="1.6" height="1.1" fill="#bdbdbd" opacity="0.7"/>
<rect x="755.0" y="1168.8" width="1.6" height="1.1" fill="#bdbdbd" opacity="0.7"/>
<rect x="767.4" y="1168.8" width="1.6" height="1.1" fill="#bdbdbd" opacity="0.7"/>
<rect x="730.2" y="1180.9" width="1.6" height="1.1" fill="#bdbdbd" opacity="0.7"/>
<rect x="742.6" y="1180.9" width="1.6" height="1.1" fill="#bdbdbd" opacity="0.7"/>
<rect x="755.0" y="1180.9" width="1.6" height="1.1" fill="#bdbdbd" opacity="0.7"/>
<rect x="730.2" y="1193.5" width="1.6" height="1.1" fill="#bdbdbd" opacity="0.7"/>
<rect x="742.6" y="1193.5" width="1.6" height="1.1" fill="#bdbdbd" opacity="0.7"/>
<rect x="755.0" y="1193.5" width="1.6" height="1.1" fill="#bdbdbd" opacity="0.7"/>
<rect x="730.2" y="1205.8" width="1.6" height="1.1" fill="#bdbdbd" opacity="0.7"/>
<rect x="742.6" y="1205.8" width="1.6" height="1.1" fill="#bdbdbd" opacity="0.7"/>
<rect x="755.0" y="1205.8" width="1.6" height="1.1" fill="#bdbdbd" opacity="0.7"/>
<rect x="730.2" y="1218.6" width="1.6" height="1.1" fill="#bdbdbd" opacity="0.7"/>
<rect x="755.0" y="1218.6" width="1.6" height="1.1" fill="#bdbdbd" opacity="0.7"/>
<rect x="767.4" y="1180.9" width="1.6" height="1.1" fill="#bdbdbd" opacity="0.7"/>
<rect x="767.4" y="1205.8" width="1.6" height="1.1" fill="#bdbdbd" opacity="0.7"/>
<text x="575" y="1222" font-size="4.2" fill="#bbb">rapoo</text>
</g>
<!-- mouse -->
<defs><linearGradient id="mouseG" x1="0" y1="0" x2="1" y2="0"><stop offset="0" stop-color="#aecfcb"/><stop offset="0.5" stop-color="#b9d8d4"/><stop offset="1" stop-color="#c8e2df"/></linearGradient></defs>
<path d="M820,1157.6 C833,1157.6 839.2,1166 839.2,1180 V1205 C839.2,1220 831,1227.6 820,1227.6 C809,1227.6 800,1220 800,1205 V1180 C800,1166 807,1157.6 820,1157.6 Z" fill="url(#mouseG)"/>
<line x1="820" y1="1158" x2="820" y2="1195.2" stroke="#8aaaa3" stroke-width="0.8"/>
<rect x="817.2" y="1165.6" width="5.6" height="9.6" rx="2.8" fill="#b2d2ca" stroke="#7d9d96" stroke-width="0.8"/>
<path d="M802.4,1140.8 A22.0,22.0 0 0 1 837.6,1140.8" fill="none" stroke="#222" stroke-width="1.7" stroke-linecap="round"/>
<path d="M807.4,1145.5 A15.2,15.2 0 0 1 832.6,1145.5" fill="none" stroke="#222" stroke-width="1.7" stroke-linecap="round"/>
<path d="M812.6,1150.4 A8.2,8.2 0 0 1 827.4,1150.4" fill="none" stroke="#222" stroke-width="1.7" stroke-linecap="round"/>
<path d="M816.6,1152.4 Q820.0,1150.4 823.4,1152.4 L820.0,1156.0 Z" fill="#111"/>
<path d="M628.4,1133.3 A22.0,22.0 0 0 1 663.6,1133.3" fill="none" stroke="#222" stroke-width="1.7" stroke-linecap="round"/>
<path d="M633.4,1138.0 A15.2,15.2 0 0 1 658.6,1138.0" fill="none" stroke="#222" stroke-width="1.7" stroke-linecap="round"/>
<path d="M638.6,1142.9 A8.2,8.2 0 0 1 653.4,1142.9" fill="none" stroke="#222" stroke-width="1.7" stroke-linecap="round"/>
<path d="M642.6,1144.9 Q646.0,1142.9 649.4,1144.9 L646.0,1148.5 Z" fill="#111"/>
<!-- USB hub texts -->
<text x="653.5" y="944.4" font-size="22.5" fill="#111" textLength="129" lengthAdjust="spacingAndGlyphs">USB2.0-HUB</text>
<rect x="644.2" y="961" width="1.6" height="48" fill="#8a8a8a"/>
<text x="654.5" y="978.5" font-size="16" fill="#111" textLength="136" lengthAdjust="spacingAndGlyphs">可支持u盘，数据线</text>
<text x="654.5" y="1005.5" font-size="16" fill="#111" textLength="140.5" lengthAdjust="spacingAndGlyphs">打印机，键盘鼠标等</text>
<defs><linearGradient id="stickG" x1="0" y1="0" x2="0" y2="1"><stop offset="0" stop-color="#ececec"/><stop offset="1" stop-color="#c4c4c4"/></linearGradient></defs>
<rect x="577.2" y="947.9" width="11" height="10.8" fill="url(#stickG)" stroke="#8c8c8c" stroke-width="0.9"/>
<rect x="588" y="945.2" width="35.7" height="15.9" rx="1.5" fill="url(#stickG)" stroke="#8c8c8c" stroke-width="0.9"/>
<text x="592.6" y="958.1" font-size="13.4" fill="#d8d8d8" stroke="#666" stroke-width="0.7" textLength="26.3" lengthAdjust="spacingAndGlyphs">USB</text>
<rect x="575.7" y="982.1" width="14.6" height="13.2" fill="#9c8a72"/>
<path d="M590.1,982 Q594,981.5 597.6,980 V997.1 Q594,995.5 590.1,995.4 Z" fill="#0a0a0a"/>
<circle cx="600.5" cy="988.1" r="1.6" fill="#111"/>
<path d="M604.5,982.7 A6.8,6.8 0 0 1 604.5,994.1" fill="none" stroke="#333" stroke-width="1.6"/>
<path d="M607.5,978.8 A12.5,12.5 0 0 1 607.5,997.7" fill="none" stroke="#333" stroke-width="1.6"/>
<path d="M611,974.6 A18,18 0 0 1 611,1001.3" fill="none" stroke="#333" stroke-width="1.6"/>

<!-- speakers -->
<defs>
<linearGradient id="spkF" x1="0" y1="0" x2="1" y2="0"><stop offset="0" stop-color="#0c0c0c"/><stop offset="0.5" stop-color="#262626"/><stop offset="1" stop-color="#0c0c0c"/></linearGradient>
<linearGradient id="spkV" x1="0" y1="0" x2="0" y2="1"><stop offset="0" stop-color="#000" stop-opacity="0.5"/><stop offset="0.45" stop-color="#000" stop-opacity="0"/><stop offset="0.75" stop-color="#fff" stop-opacity="0.08"/><stop offset="1" stop-color="#000" stop-opacity="0.3"/></linearGradient>
<radialGradient id="cone" cx="0.5" cy="0.5" r="0.5"><stop offset="0" stop-color="#5a6c78"/><stop offset="0.5" stop-color="#3a4c58"/><stop offset="0.78" stop-color="#0e1a20"/><stop offset="0.92" stop-color="#1a2a34"/><stop offset="1" stop-color="#05090c"/></radialGradient>
<linearGradient id="dome" x1="0" y1="0" x2="1" y2="1"><stop offset="0" stop-color="#6a747c"/><stop offset="0.35" stop-color="#c4ccd2"/><stop offset="0.55" stop-color="#7e8890"/><stop offset="0.8" stop-color="#b0b8be"/><stop offset="1" stop-color="#4a545c"/></linearGradient>
</defs>
<!-- mic -->
<path d="M125,1509.4 L156,1532 Q161.5,1537 162,1546 L162.1,1556" fill="none" stroke="#1a1a1a" stroke-width="1.3"/>
<path d="M117.4,1503.8 L125,1509.4" stroke="#1e1e1e" stroke-width="2.6" stroke-linecap="round"/>
<path d="M123.8,1508.4 L125.6,1509.8" stroke="#e0402a" stroke-width="2.6"/>
<rect x="160.6" y="1547" width="3" height="9" fill="#1a1a1a"/>
<path d="M147,1562 L157,1555.5 H166 V1567 H150 Q145.5,1567 145.7,1564 Z" fill="#3a3a3c"/>
<path d="M147,1562 L157,1555.5 H166 V1558 H157 L149,1563.5 Z" fill="#55565a"/>
<rect x="159.5" y="1555" width="5" height="1.6" fill="#d23a2a"/>
<rect x="152" y="1559.5" width="5" height="3" fill="#ddd"/>
<!-- left speaker -->
<polygon points="225.6,1458.5 252.2,1470 252.2,1570.6 225.6,1576.3" fill="#121212"/>
<polygon points="225.6,1458.5 252.2,1470 252.2,1472 225.6,1461" fill="#2a2a2a"/>
<rect x="165.7" y="1458.5" width="60" height="117.8" rx="3.5" fill="url(#spkF)" stroke="#8a8a8a" stroke-width="0.8"/>
<rect x="165.7" y="1458.5" width="60" height="117.8" rx="3.5" fill="url(#spkV)"/>
<circle cx="194.2" cy="1502.2" r="22.6" fill="#c4c4c4"/>
<circle cx="194.2" cy="1502.2" r="21.6" fill="url(#cone)"/>
<circle cx="194.2" cy="1502.2" r="9.6" fill="url(#dome)"/>
<g><rect x="171.8" y="1541.2" width="46.2" height="7.6" rx="3.8" fill="#050505" stroke="#9a9a9a" stroke-width="0.6"/>
<rect x="171.8" y="1553.5" width="46.2" height="8.5" rx="4.2" fill="#050505" stroke="#9a9a9a" stroke-width="0.6"/></g>
<rect x="185" y="1568" width="12" height="1.5" fill="#888"/>
<rect x="172" y="1576.3" width="10" height="2.5" rx="1" fill="#111"/><rect x="208" y="1576.3" width="10" height="2.5" rx="1" fill="#111"/>
<!-- right speaker -->
<rect x="253.1" y="1438.6" width="92.2" height="143.4" rx="4.5" fill="url(#spkF)" stroke="#9a9a9a" stroke-width="1"/>
<rect x="253.1" y="1438.6" width="92.2" height="143.4" rx="4.5" fill="url(#spkV)"/>
<circle cx="298.3" cy="1490.4" r="34.3" fill="#c8c8c8"/>
<circle cx="298.3" cy="1490.4" r="32.9" fill="url(#cone)"/>
<circle cx="298.3" cy="1490.4" r="14.3" fill="url(#dome)"/>
<rect x="263.6" y="1538.3" width="72.2" height="10.5" rx="5.2" fill="#050505" stroke="#a0a0a0" stroke-width="0.7"/>
<rect x="263.6" y="1555.4" width="72.2" height="10.5" rx="5.2" fill="#050505" stroke="#a0a0a0" stroke-width="0.7"/>
<rect x="263" y="1582" width="73" height="3" rx="1" fill="#111"/>
</svg>
<div class="cone" style="left:181.2px;top:1489.2px;width:26px;height:26px;"></div>
<div class="dome" style="left:184.6px;top:1492.6px;width:19.2px;height:19.2px;"></div>
<div class="cone" style="left:278.3px;top:1470.4px;width:40px;height:40px;"></div>
<div class="dome" style="left:284px;top:1476.1px;width:28.6px;height:28.6px;"></div>

</body></html>
